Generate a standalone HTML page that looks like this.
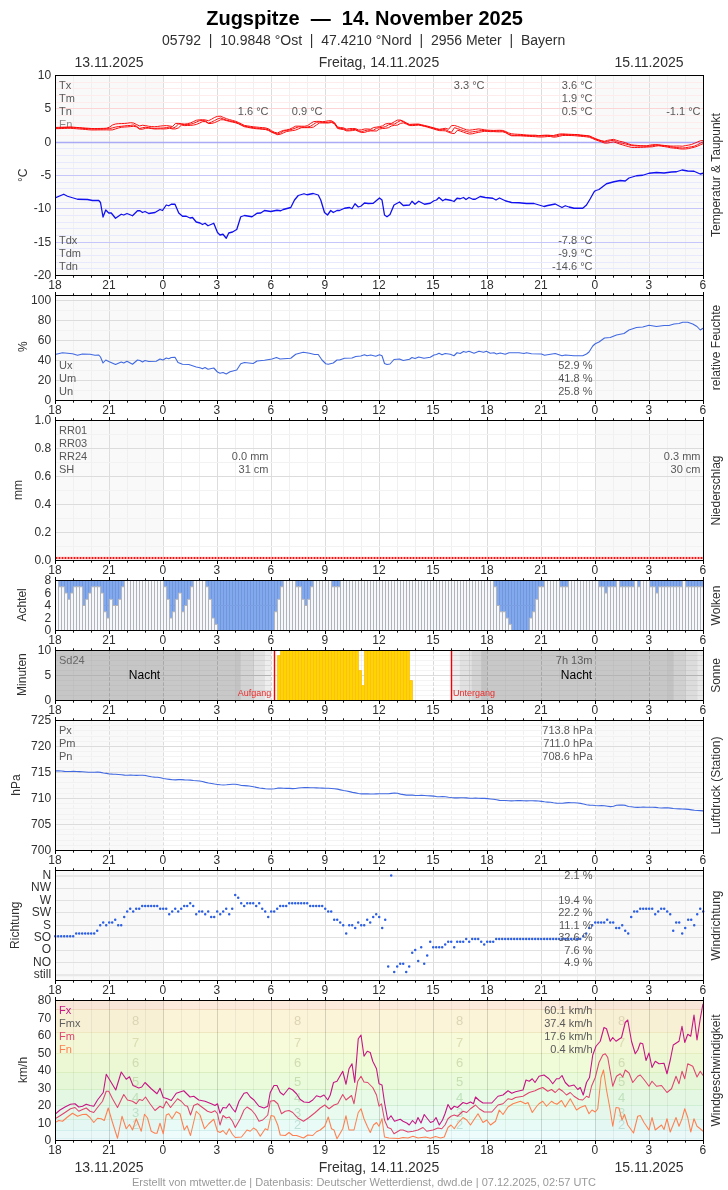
<!DOCTYPE html>
<html lang="de"><head><meta charset="utf-8"><title>Zugspitze — 14. November 2025</title>
<style>html,body{margin:0;padding:0;background:#fff}svg{display:block;will-change:transform}text{font-family:"Liberation Sans",sans-serif}</style></head>
<body>
<svg width="728" height="1190" viewBox="0 0 728 1190" font-family="'Liberation Sans', sans-serif">
<text x="364.6" y="25" font-size="20" fill="#000" text-anchor="middle" font-weight="bold" xml:space="preserve">Zugspitze  —  14. November 2025</text>
<text x="363.7" y="45" font-size="14" fill="#303030" text-anchor="middle" xml:space="preserve">05792  |  10.9848 °Ost  |  47.4210 °Nord  |  2956 Meter  |  Bayern</text>
<text x="109" y="67" font-size="14" fill="#303030" text-anchor="middle">13.11.2025</text>
<text x="379" y="67" font-size="14" fill="#303030" text-anchor="middle">Freitag, 14.11.2025</text>
<text x="649" y="67" font-size="14" fill="#303030" text-anchor="middle">15.11.2025</text>
<text x="109" y="1172" font-size="14" fill="#303030" text-anchor="middle">13.11.2025</text>
<text x="379" y="1172" font-size="14" fill="#303030" text-anchor="middle">Freitag, 14.11.2025</text>
<text x="649" y="1172" font-size="14" fill="#303030" text-anchor="middle">15.11.2025</text>
<text x="364" y="1186" font-size="11" fill="#999" text-anchor="middle">Erstellt von mtwetter.de | Datenbasis: Deutscher Wetterdienst, dwd.de | 07.12.2025, 02:57 UTC</text>
<rect x="55.5" y="75.5" width="108" height="200" fill="#f9f9f9"/>
<rect x="595.5" y="75.5" width="108" height="200" fill="#f9f9f9"/>
<path d="M73.5 75.5V275.5M91.5 75.5V275.5M127.5 75.5V275.5M145.5 75.5V275.5M181.5 75.5V275.5M199.5 75.5V275.5M235.5 75.5V275.5M253.5 75.5V275.5M289.5 75.5V275.5M307.5 75.5V275.5M343.5 75.5V275.5M361.5 75.5V275.5M397.5 75.5V275.5M415.5 75.5V275.5M451.5 75.5V275.5M469.5 75.5V275.5M505.5 75.5V275.5M523.5 75.5V275.5M559.5 75.5V275.5M577.5 75.5V275.5M613.5 75.5V275.5M631.5 75.5V275.5M667.5 75.5V275.5M685.5 75.5V275.5" stroke="#f0f0f0" stroke-width="1" fill="none"/>
<path d="M109.5 75.5V275.5M163.5 75.5V275.5M217.5 75.5V275.5M271.5 75.5V275.5M325.5 75.5V275.5M379.5 75.5V275.5M433.5 75.5V275.5M487.5 75.5V275.5M541.5 75.5V275.5M595.5 75.5V275.5M649.5 75.5V275.5" stroke="#dddddd" stroke-width="1.0" fill="none"/>
<path d="M55.5 135.5H703.5M55.5 128.5H703.5M55.5 122.5H703.5M55.5 115.5H703.5M55.5 102.5H703.5M55.5 95.5H703.5M55.5 88.5H703.5M55.5 82.5H703.5" stroke="#feecec" stroke-width="1" fill="none"/>
<path d="M55.5 108.5H703.5" stroke="#fcd6d6" stroke-width="1" fill="none"/>
<path d="M55.5 148.5H703.5M55.5 155.5H703.5M55.5 162.5H703.5M55.5 168.5H703.5M55.5 182.5H703.5M55.5 188.5H703.5M55.5 195.5H703.5M55.5 202.5H703.5M55.5 215.5H703.5M55.5 222.5H703.5M55.5 228.5H703.5M55.5 235.5H703.5M55.5 248.5H703.5M55.5 255.5H703.5M55.5 262.5H703.5M55.5 268.5H703.5" stroke="#e9e9fd" stroke-width="1" fill="none"/>
<path d="M55.5 175.5H703.5M55.5 208.5H703.5M55.5 242.5H703.5" stroke="#c6c6fa" stroke-width="1.2" fill="none"/>
<path d="M55.5 142.5H703.5" stroke="#aaaaf6" stroke-width="1.6" fill="none"/>
<text x="59" y="88.8" font-size="11" fill="#585858" text-anchor="start">Tx</text>
<text x="59" y="101.8" font-size="11" fill="#585858" text-anchor="start">Tm</text>
<text x="59" y="114.8" font-size="11" fill="#585858" text-anchor="start">Tn</text>
<text x="59" y="127.8" font-size="11" fill="#8c8c8c" text-anchor="start">En</text>
<text x="59" y="243.8" font-size="11" fill="#585858" text-anchor="start">Tdx</text>
<text x="59" y="256.8" font-size="11" fill="#585858" text-anchor="start">Tdm</text>
<text x="59" y="269.8" font-size="11" fill="#585858" text-anchor="start">Tdn</text>
<text x="592.5" y="88.8" font-size="11" fill="#585858" text-anchor="end">3.6 °C</text>
<text x="592.5" y="101.8" font-size="11" fill="#585858" text-anchor="end">1.9 °C</text>
<text x="592.5" y="114.8" font-size="11" fill="#585858" text-anchor="end">0.5 °C</text>
<text x="592.5" y="243.8" font-size="11" fill="#585858" text-anchor="end">-7.8 °C</text>
<text x="592.5" y="256.8" font-size="11" fill="#585858" text-anchor="end">-9.9 °C</text>
<text x="592.5" y="269.8" font-size="11" fill="#585858" text-anchor="end">-14.6 °C</text>
<text x="484.5" y="88.8" font-size="11" fill="#585858" text-anchor="end">3.3 °C</text>
<text x="268.5" y="114.8" font-size="11" fill="#585858" text-anchor="end">1.6 °C</text>
<text x="322.5" y="114.8" font-size="11" fill="#585858" text-anchor="end">0.9 °C</text>
<text x="700.5" y="114.8" font-size="11" fill="#585858" text-anchor="end">-1.1 °C</text>
<g clip-path="url(#c1)">
<path d="M55.5 127.45 L58.5 127.37 L61.5 127.26 L64.5 127.14 L67.5 127.04 L70.5 126.92 L73.5 127.15 L76.5 127.43 L79.5 127.64 L82.5 127.87 L85.5 128.07 L88.5 128.28 L91.5 128.51 L94.5 128.55 L97.5 128.51 L100.5 128.44 L103.5 128.38 L106.5 128.2 L109.5 127.14 L112.5 125 L115.5 124 L118.5 123.67 L121.5 123.57 L124.5 123.44 L127.5 123.16 L130.5 122.73 L133.5 123.03 L136.5 124.47 L139.5 125.95 L142.5 125.26 L145.5 125.58 L148.5 126.26 L151.5 126.54 L154.5 126.74 L157.5 126.47 L160.5 126.04 L163.5 125.74 L166.5 125.62 L169.5 125.95 L172.5 126.59 L175.5 123.44 L178.5 123.41 L181.5 123.79 L184.5 124.1 L187.5 123.69 L190.5 122.94 L193.5 121.55 L196.5 120.2 L199.5 119.84 L202.5 119.7 L205.5 119.93 L208.5 120.74 L211.5 119.21 L214.5 117.47 L217.5 116.32 L220.5 116.24 L223.5 117.44 L226.5 118.72 L229.5 119.6 L232.5 120.42 L235.5 121.24 L238.5 122.48 L241.5 123.95 L244.5 125.45 L247.5 125.89 L250.5 126.36 L253.5 126.8 L256.5 127.06 L259.5 127.39 L262.5 127.62 L265.5 127.88 L268.5 128.83 L271.5 130.74 L274.5 132.25 L277.5 133.01 L280.5 131.46 L283.5 130.4 L286.5 129.91 L289.5 129.21 L292.5 127.76 L295.5 126.2 L298.5 126.12 L301.5 126.21 L304.5 126.26 L307.5 125.65 L310.5 123.54 L313.5 121.63 L316.5 121.36 L319.5 121.35 L322.5 121.73 L325.5 121.35 L328.5 120.73 L331.5 120.77 L334.5 122.58 L337.5 127 L340.5 127.52 L343.5 127.87 L346.5 129.22 L349.5 128.56 L352.5 128.56 L355.5 128.58 L358.5 130 L361.5 129.88 L364.5 129.02 L367.5 128.96 L370.5 129.33 L373.5 127.54 L376.5 127.1 L379.5 126.65 L382.5 125.86 L385.5 123.95 L388.5 123.39 L391.5 123.42 L394.5 121.66 L397.5 120.08 L400.5 120.06 L403.5 121.31 L406.5 122.99 L409.5 124.42 L412.5 124.18 L415.5 124.08 L418.5 124.03 L421.5 124.69 L424.5 125.44 L427.5 126.11 L430.5 126.97 L433.5 127.73 L436.5 128.62 L439.5 129.32 L442.5 128.72 L445.5 128.3 L448.5 129.29 L451.5 125.66 L454.5 125.46 L457.5 126.43 L460.5 127.52 L463.5 128.69 L466.5 129.86 L469.5 130.16 L472.5 129.82 L475.5 129.41 L478.5 128.91 L481.5 129.31 L484.5 129.79 L487.5 130.17 L490.5 130.31 L493.5 130.45 L496.5 130.35 L499.5 130.25 L502.5 130.42 L505.5 131.42 L508.5 132.88 L511.5 133.78 L514.5 134.09 L517.5 134.27 L520.5 134.42 L523.5 134.7 L526.5 134.95 L529.5 135.13 L532.5 135.18 L535.5 135.2 L538.5 135.64 L541.5 135.42 L544.5 135.19 L547.5 135.13 L550.5 135.36 L553.5 135.5 L556.5 134.7 L559.5 134.04 L562.5 133.86 L565.5 134.05 L568.5 134.22 L571.5 134.35 L574.5 134.48 L577.5 134.56 L580.5 134.93 L583.5 135.27 L586.5 135.55 L589.5 135.98 L592.5 137.31 L595.5 138.62 L598.5 139.76 L601.5 140.74 L604.5 141.32 L607.5 140.36 L610.5 139.81 L613.5 139.39 L616.5 140.28 L619.5 141.21 L622.5 141.81 L625.5 142.71 L628.5 143.85 L631.5 144.84 L634.5 145.2 L637.5 145.43 L640.5 145.67 L643.5 145.71 L646.5 145.8 L649.5 145.28 L652.5 144.7 L655.5 144.66 L658.5 144.77 L661.5 145.13 L664.5 145.47 L667.5 145.77 L670.5 145.99 L673.5 146.11 L676.5 146.02 L679.5 146.04 L682.5 146.21 L685.5 145.58 L688.5 145.12 L691.5 144.47 L694.5 143.27 L697.5 141.98 L700.5 140.79 L703.5 140.55" stroke="#f00" stroke-width="0.95" fill="none" stroke-linejoin="round"/>
<path d="M55.5 128.13 L58.5 128.02 L61.5 127.84 L64.5 127.67 L67.5 127.64 L70.5 127.66 L73.5 127.72 L76.5 127.8 L79.5 128.05 L82.5 128.32 L85.5 128.56 L88.5 128.76 L91.5 128.96 L94.5 129.06 L97.5 129.09 L100.5 129.07 L103.5 128.91 L106.5 128.78 L109.5 128.61 L112.5 127.87 L115.5 127.08 L118.5 126.54 L121.5 126.31 L124.5 125.89 L127.5 125.58 L130.5 125.45 L133.5 124.91 L136.5 126.24 L139.5 128.54 L142.5 127.73 L145.5 127.23 L148.5 127.68 L151.5 128.05 L154.5 128.35 L157.5 128.16 L160.5 128.08 L163.5 128.01 L166.5 127.59 L169.5 127.02 L172.5 128.21 L175.5 127.07 L178.5 123.93 L181.5 124.22 L184.5 124.76 L187.5 124.56 L190.5 124.19 L193.5 123.39 L196.5 122.06 L199.5 120.71 L202.5 120.52 L205.5 121.01 L208.5 123.1 L211.5 122.06 L214.5 120.6 L217.5 119.02 L220.5 117.97 L223.5 119.05 L226.5 120.13 L229.5 120.82 L232.5 121.37 L235.5 122.07 L238.5 123.32 L241.5 124.86 L244.5 126.24 L247.5 126.73 L250.5 127.25 L253.5 127.65 L256.5 128.05 L259.5 128.56 L262.5 128.85 L265.5 128.93 L268.5 129.85 L271.5 131.68 L274.5 132.97 L277.5 134.05 L280.5 132.89 L283.5 131.05 L286.5 130.47 L289.5 129.98 L292.5 129.16 L295.5 127.98 L298.5 126.88 L301.5 127.04 L304.5 127.19 L307.5 127.06 L310.5 126.24 L313.5 124.33 L316.5 122.32 L319.5 122 L322.5 122.27 L325.5 122.47 L328.5 122.19 L331.5 121.74 L334.5 123.24 L337.5 127.75 L340.5 128.43 L343.5 128.73 L346.5 130.13 L349.5 129.9 L352.5 129.45 L355.5 129.53 L358.5 130.79 L361.5 131.61 L364.5 130.8 L367.5 130.07 L370.5 130.17 L373.5 130.21 L376.5 128.27 L379.5 127.65 L382.5 127.4 L385.5 126.63 L388.5 124.82 L391.5 124.16 L394.5 124.05 L397.5 122.28 L400.5 120.59 L403.5 121.89 L406.5 123.36 L409.5 124.9 L412.5 124.82 L415.5 124.61 L418.5 124.51 L421.5 125.32 L424.5 126.05 L427.5 126.72 L430.5 127.42 L433.5 128.28 L436.5 129.17 L439.5 129.86 L442.5 129.68 L445.5 129.58 L448.5 131.25 L451.5 132.24 L454.5 127.64 L457.5 128.66 L460.5 129.69 L463.5 130.56 L466.5 131.47 L469.5 132.26 L472.5 131.83 L475.5 131.4 L478.5 130.97 L481.5 130.43 L484.5 130.52 L487.5 130.77 L490.5 131.06 L493.5 131.13 L496.5 131.09 L499.5 130.99 L502.5 131.01 L505.5 132.04 L508.5 133.97 L511.5 135.15 L514.5 135.3 L517.5 135.28 L520.5 135.26 L523.5 135.49 L526.5 135.57 L529.5 135.57 L532.5 135.75 L535.5 135.83 L538.5 135.97 L541.5 135.86 L544.5 135.72 L547.5 135.6 L550.5 135.72 L553.5 136.23 L556.5 135.75 L559.5 135.05 L562.5 134.54 L565.5 134.65 L568.5 134.84 L571.5 134.9 L574.5 134.85 L577.5 135.08 L580.5 135.47 L583.5 135.67 L586.5 135.9 L589.5 136.4 L592.5 137.81 L595.5 139.12 L598.5 140.05 L601.5 140.96 L604.5 141.97 L607.5 141.55 L610.5 140.69 L613.5 140.38 L616.5 141.65 L619.5 142.7 L622.5 143.33 L625.5 143.98 L628.5 144.76 L631.5 145.59 L634.5 145.81 L637.5 146.05 L640.5 146.09 L643.5 146.13 L646.5 146.28 L649.5 146.23 L652.5 145.65 L655.5 145.11 L658.5 145.16 L661.5 145.61 L664.5 145.91 L667.5 146.19 L670.5 146.72 L673.5 147.18 L676.5 147.47 L679.5 147.79 L682.5 148.02 L685.5 147.73 L688.5 147.21 L691.5 146.75 L694.5 146.1 L697.5 144.73 L700.5 143.15 L703.5 141.74" stroke="#f00" stroke-width="0.95" fill="none" stroke-linejoin="round"/>
<path d="M55.5 128.66 L58.5 128.61 L61.5 128.54 L64.5 128.42 L67.5 128.32 L70.5 128.27 L73.5 128.52 L76.5 128.74 L79.5 129 L82.5 129.23 L85.5 129.48 L88.5 129.75 L91.5 129.95 L94.5 129.97 L97.5 129.93 L100.5 129.88 L103.5 129.89 L106.5 129.85 L109.5 129.94 L112.5 129.88 L115.5 128.93 L118.5 127.99 L121.5 127.22 L124.5 127.05 L127.5 126.85 L130.5 126.6 L133.5 126.28 L136.5 126.91 L139.5 129.14 L142.5 129.23 L145.5 128.32 L148.5 128.11 L151.5 128.57 L154.5 128.97 L157.5 128.94 L160.5 128.85 L163.5 128.94 L166.5 128.79 L169.5 128.24 L172.5 128.95 L175.5 128.91 L178.5 127.83 L181.5 125.04 L184.5 125.6 L187.5 125.49 L190.5 125.4 L193.5 125.07 L196.5 124.39 L199.5 123.13 L202.5 121.58 L205.5 121.61 L208.5 123.5 L211.5 123.47 L214.5 122.61 L217.5 121.41 L220.5 119.8 L223.5 119.77 L226.5 120.61 L229.5 121.41 L232.5 122.08 L235.5 122.81 L238.5 123.81 L241.5 125.35 L244.5 126.75 L247.5 127.29 L250.5 127.89 L253.5 128.44 L256.5 128.75 L259.5 128.95 L262.5 129.26 L265.5 129.56 L268.5 130.54 L271.5 132.2 L274.5 133.45 L277.5 134.67 L280.5 134.22 L283.5 132.82 L286.5 131.54 L289.5 131.04 L292.5 130.6 L295.5 130.08 L298.5 128.87 L301.5 127.62 L304.5 127.61 L307.5 127.62 L310.5 127.58 L313.5 127.05 L316.5 124.93 L319.5 122.93 L322.5 122.97 L325.5 122.98 L328.5 123 L331.5 122.49 L334.5 123.72 L337.5 128.38 L340.5 129.15 L343.5 129.53 L346.5 130.88 L349.5 130.84 L352.5 130.56 L355.5 130.04 L358.5 131.49 L361.5 132.46 L364.5 132.38 L367.5 131.42 L370.5 130.9 L373.5 130.97 L376.5 130.97 L379.5 129.01 L382.5 128.51 L385.5 128.32 L388.5 127.65 L391.5 125.93 L394.5 125.35 L397.5 125.09 L400.5 123.36 L403.5 122.88 L406.5 124.11 L409.5 125.55 L412.5 125.6 L415.5 125.37 L418.5 125.11 L421.5 125.64 L424.5 126.37 L427.5 127.13 L430.5 128.04 L433.5 128.95 L436.5 129.92 L439.5 130.64 L442.5 130.69 L445.5 130.85 L448.5 132.28 L451.5 133.27 L454.5 133.56 L457.5 130.13 L460.5 131.15 L463.5 132.23 L466.5 133.25 L469.5 134.06 L472.5 133.74 L475.5 132.98 L478.5 132.39 L481.5 131.8 L484.5 131.31 L487.5 131.42 L490.5 131.67 L493.5 131.59 L496.5 131.79 L499.5 131.87 L502.5 131.75 L505.5 132.63 L508.5 134.41 L511.5 135.76 L514.5 135.84 L517.5 135.79 L520.5 135.85 L523.5 136.04 L526.5 136.19 L529.5 136.39 L532.5 136.55 L535.5 136.67 L538.5 136.99 L541.5 136.98 L544.5 136.83 L547.5 136.54 L550.5 136.53 L553.5 137.18 L556.5 136.92 L559.5 136.21 L562.5 135.54 L565.5 135.41 L568.5 135.5 L571.5 135.55 L574.5 135.7 L577.5 135.97 L580.5 136.25 L583.5 136.49 L586.5 136.83 L589.5 137.31 L592.5 138.55 L595.5 139.79 L598.5 140.88 L601.5 141.96 L604.5 143.06 L607.5 143.07 L610.5 142.46 L613.5 141.86 L616.5 142.83 L619.5 143.97 L622.5 144.82 L625.5 145.75 L628.5 146.6 L631.5 147.41 L634.5 147.47 L637.5 147.45 L640.5 147.39 L643.5 147.3 L646.5 147.13 L649.5 146.91 L652.5 146.79 L655.5 146.15 L658.5 145.75 L661.5 146.17 L664.5 146.62 L667.5 147.12 L670.5 147.75 L673.5 148.08 L676.5 148.38 L679.5 148.82 L682.5 149.05 L685.5 148.94 L688.5 148.6 L691.5 147.88 L694.5 147.19 L697.5 146.2 L700.5 144.77 L703.5 143.5" stroke="#f00" stroke-width="0.95" fill="none" stroke-linejoin="round"/>
<path d="M55 198 L63.75 194.25 L67.5 196.25 L77.5 199.25 L87.5 199.5 L92.5 200.5 L98.75 200.5 L100.5 202.5 L103 217 L105.75 210 L108.75 213 L111.25 213 L115.5 218.25 L121.25 214.25 L123.75 215 L127 213.5 L132.5 215.75 L137.5 210.75 L140 210.75 L142.5 212.5 L145 211.5 L148.75 213.5 L155 212.5 L160 209.5 L162.5 210.5 L166.25 205 L168.75 205.75 L171.25 204.25 L175 204.25 L178.75 213 L182.5 216.25 L186.25 216.25 L190 218 L192.5 217.5 L196.25 222 L200 223 L202.5 224.5 L205 223.25 L208 225.75 L213.75 223.25 L217.5 232.5 L220 235 L223 234.25 L226.25 238.25 L228.75 233 L232.5 232 L236.75 229.5 L240.75 216.75 L244.5 215.5 L252 216.75 L257 213.25 L260.75 213 L264.5 210.5 L270.75 211.5 L277 210.25 L280.75 210.75 L283.25 209.5 L290.75 207.5 L294.5 200 L298.25 195.5 L304 193.75 L307 194.75 L313.25 193.5 L318.25 195 L320.75 200 L324.5 212.5 L327.5 215 L330.75 210.5 L333.25 212.5 L337 210.5 L339.5 210.5 L344.5 208.25 L349.5 207.5 L352 208.75 L355 203.75 L358.25 207 L360.75 206.25 L364.5 203 L368.25 203.5 L373.25 203.25 L379.5 198 L382 200 L384.5 215 L387 216.75 L390 214.5 L394 205 L399.5 202 L403.25 205.5 L409.5 205 L412 201.25 L415 204.25 L418.75 201.25 L424.5 204.25 L430.25 203.25 L434 200.75 L436.5 200 L439 197.5 L442.75 200.75 L445.25 199.25 L451.5 200.5 L454 201.5 L457 198.25 L460.25 198.75 L463.5 197.5 L466 199.5 L469 197.5 L472.75 199.25 L475.25 199.25 L480.25 196.5 L485.25 197.5 L492.75 198.25 L496 200 L499.5 198 L505.25 200.75 L511.5 202.5 L519 202.75 L526.5 203.5 L534 203.5 L544 206.5 L547.75 205.5 L555.25 204 L562 207.5 L565.25 205.75 L569 207 L574 208.25 L582.75 208.25 L586.5 205 L590.25 198.75 L594 192 L595.25 190.75 L599 189.5 L606.5 183.75 L614 181.75 L620.25 180.5 L625.25 181 L629 178 L636.5 175.75 L642.75 175.25 L649 173.25 L656.5 172.5 L664 173 L671.5 172 L676.5 171.75 L682 170 L687.75 171 L694 171.25 L700.25 174 L703 173.25" stroke="#1010f0" stroke-width="1.3" fill="none" stroke-linejoin="round"/>
</g>
<path d="M55.5 275.5v3.5M109.5 275.5v3.5M163.5 275.5v3.5M217.5 275.5v3.5M271.5 275.5v3.5M325.5 275.5v3.5M379.5 275.5v3.5M433.5 275.5v3.5M487.5 275.5v3.5M541.5 275.5v3.5M595.5 275.5v3.5M649.5 275.5v3.5M703.5 275.5v3.5" stroke="#000" stroke-width="1" fill="none"/>
<path d="M73.5 275.5v2.2M91.5 275.5v2.2M127.5 275.5v2.2M145.5 275.5v2.2M181.5 275.5v2.2M199.5 275.5v2.2M235.5 275.5v2.2M253.5 275.5v2.2M289.5 275.5v2.2M307.5 275.5v2.2M343.5 275.5v2.2M361.5 275.5v2.2M397.5 275.5v2.2M415.5 275.5v2.2M451.5 275.5v2.2M469.5 275.5v2.2M505.5 275.5v2.2M523.5 275.5v2.2M559.5 275.5v2.2M577.5 275.5v2.2M613.5 275.5v2.2M631.5 275.5v2.2M667.5 275.5v2.2M685.5 275.5v2.2" stroke="#000" stroke-width="0.9" fill="none"/>
<rect x="55.5" y="75.5" width="648" height="200" fill="none" stroke="#000" stroke-width="1"/>
<text x="54.9" y="288.7" font-size="12" fill="#303030" text-anchor="middle">18</text>
<text x="108.9" y="288.7" font-size="12" fill="#303030" text-anchor="middle">21</text>
<text x="162.9" y="288.7" font-size="12" fill="#303030" text-anchor="middle">0</text>
<text x="216.9" y="288.7" font-size="12" fill="#303030" text-anchor="middle">3</text>
<text x="270.9" y="288.7" font-size="12" fill="#303030" text-anchor="middle">6</text>
<text x="324.9" y="288.7" font-size="12" fill="#303030" text-anchor="middle">9</text>
<text x="378.9" y="288.7" font-size="12" fill="#303030" text-anchor="middle">12</text>
<text x="432.9" y="288.7" font-size="12" fill="#303030" text-anchor="middle">15</text>
<text x="486.9" y="288.7" font-size="12" fill="#303030" text-anchor="middle">18</text>
<text x="540.9" y="288.7" font-size="12" fill="#303030" text-anchor="middle">21</text>
<text x="594.9" y="288.7" font-size="12" fill="#303030" text-anchor="middle">0</text>
<text x="648.9" y="288.7" font-size="12" fill="#303030" text-anchor="middle">3</text>
<text x="702.9" y="288.7" font-size="12" fill="#303030" text-anchor="middle">6</text>
<text x="51.1" y="79" font-size="12" fill="#303030" text-anchor="end">10</text>
<text x="51.1" y="112.33" font-size="12" fill="#303030" text-anchor="end">5</text>
<text x="51.1" y="145.67" font-size="12" fill="#303030" text-anchor="end">0</text>
<text x="51.1" y="179" font-size="12" fill="#303030" text-anchor="end">-5</text>
<text x="51.1" y="212.33" font-size="12" fill="#303030" text-anchor="end">-10</text>
<text x="51.1" y="245.67" font-size="12" fill="#303030" text-anchor="end">-15</text>
<text x="51.1" y="279" font-size="12" fill="#303030" text-anchor="end">-20</text>
<text transform="translate(26.5 175.3) rotate(-90)" font-size="12" fill="#303030" text-anchor="middle">°C</text>
<text transform="translate(719.5 175) rotate(-90)" font-size="12" fill="#303030" text-anchor="middle">Temperatur &amp; Taupunkt</text>
<rect x="55.5" y="295.5" width="108" height="105" fill="#f9f9f9"/>
<rect x="595.5" y="295.5" width="108" height="105" fill="#f9f9f9"/>
<path d="M73.5 295.5V400.5M91.5 295.5V400.5M127.5 295.5V400.5M145.5 295.5V400.5M181.5 295.5V400.5M199.5 295.5V400.5M235.5 295.5V400.5M253.5 295.5V400.5M289.5 295.5V400.5M307.5 295.5V400.5M343.5 295.5V400.5M361.5 295.5V400.5M397.5 295.5V400.5M415.5 295.5V400.5M451.5 295.5V400.5M469.5 295.5V400.5M505.5 295.5V400.5M523.5 295.5V400.5M559.5 295.5V400.5M577.5 295.5V400.5M613.5 295.5V400.5M631.5 295.5V400.5M667.5 295.5V400.5M685.5 295.5V400.5" stroke="#f0f0f0" stroke-width="1" fill="none"/>
<path d="M109.5 295.5V400.5M163.5 295.5V400.5M217.5 295.5V400.5M271.5 295.5V400.5M325.5 295.5V400.5M379.5 295.5V400.5M433.5 295.5V400.5M487.5 295.5V400.5M541.5 295.5V400.5M595.5 295.5V400.5M649.5 295.5V400.5" stroke="#dddddd" stroke-width="1.0" fill="none"/>
<path d="M55.5 390.5H703.5M55.5 370.5H703.5M55.5 350.5H703.5M55.5 330.5H703.5M55.5 310.5H703.5" stroke="#f2f2f2" stroke-width="1" fill="none"/>
<path d="M55.5 380.5H703.5M55.5 360.5H703.5M55.5 340.5H703.5M55.5 320.5H703.5M55.5 300.5H703.5" stroke="#dcdcdc" stroke-width="1.1" fill="none"/>
<path d="M55 354.5 L62.5 352.75 L72.5 353.75 L77.5 355.25 L82.5 354 L90 354.25 L95 355.25 L98.75 355 L100.5 357 L103 363 L105.75 360 L108.75 361.5 L115.5 364.5 L121.25 362 L123.75 363 L127 361.25 L132.5 364.25 L137.5 360 L140 360.5 L142.5 362 L145 360.5 L148.75 361.5 L156.25 361.25 L160 359 L163 360 L166.25 358 L168.75 358.75 L171.25 357.5 L175 357.25 L178 362.5 L182.5 364.25 L188.75 364.5 L192.5 365.75 L196.25 367 L200 367.75 L202.5 368.75 L205 367.5 L208 369.25 L213.75 368 L217.5 372 L220 373.25 L223 372.5 L226.25 374 L230 371.75 L236.75 370 L240.75 363.75 L244.5 362.5 L253.25 363.5 L257 361 L264.5 360.25 L272 359 L276.5 357.5 L280 359 L290.75 358.25 L295.75 354.25 L303.25 352.25 L309.5 353.25 L314.5 354.5 L318.25 354.5 L322 360 L325.75 363.75 L328.25 364.25 L333.25 363 L337 360 L339.5 360 L344.5 358.25 L352 358 L355.75 356.5 L360.75 356 L364.5 354.75 L367 355.75 L370.75 355 L375.75 356.25 L379.5 354.75 L382 355.75 L384.5 363.5 L387 364.5 L390 364 L394 359.5 L399.5 359 L403.25 360.5 L409.5 359.25 L412 357.5 L415 358.5 L418.75 357 L424 358.25 L430.25 357.25 L434 355 L436.5 354.5 L439 353.25 L442 354.75 L445.25 353.5 L450.25 354.25 L454 355.75 L457 352.75 L460.25 353.5 L463.5 351.5 L466 352.25 L469 351.25 L474 353.25 L479 351.25 L483.5 352.25 L486.5 351.25 L490.25 353.25 L494 352.75 L496.5 354 L500.25 353 L505.25 354.25 L509 352.75 L519 352.75 L524 353.5 L526.5 352.75 L531.5 353.75 L541.5 354 L544.5 355.25 L549 354.5 L555.25 353.5 L562 355.75 L565.25 355 L574 355.75 L582.75 355.75 L586.5 354 L589 352 L592.75 346 L595.25 343.75 L599 342 L604.5 338 L610.25 337.5 L616.5 335 L624 333.5 L629 330 L636.5 327.5 L642.75 327 L649 325.25 L656.5 326.5 L664 325.5 L669 325.5 L674 324 L679 323.5 L682.75 322.25 L687.75 322.25 L692.75 324 L697 326.5 L700.25 330 L703 328.25" stroke="#4169e1" stroke-width="1.1" fill="none" stroke-linejoin="round"/>
<text x="59" y="368.6" font-size="11" fill="#585858" text-anchor="start">Ux</text>
<text x="59" y="381.55" font-size="11" fill="#585858" text-anchor="start">Um</text>
<text x="59" y="394.5" font-size="11" fill="#585858" text-anchor="start">Un</text>
<text x="592.5" y="368.6" font-size="11" fill="#585858" text-anchor="end">52.9 %</text>
<text x="592.5" y="381.55" font-size="11" fill="#585858" text-anchor="end">41.8 %</text>
<text x="592.5" y="394.5" font-size="11" fill="#585858" text-anchor="end">25.8 %</text>
<path d="M55.5 400.5v3.5M55.5 295.5v-3.5M109.5 400.5v3.5M109.5 295.5v-3.5M163.5 400.5v3.5M163.5 295.5v-3.5M217.5 400.5v3.5M217.5 295.5v-3.5M271.5 400.5v3.5M271.5 295.5v-3.5M325.5 400.5v3.5M325.5 295.5v-3.5M379.5 400.5v3.5M379.5 295.5v-3.5M433.5 400.5v3.5M433.5 295.5v-3.5M487.5 400.5v3.5M487.5 295.5v-3.5M541.5 400.5v3.5M541.5 295.5v-3.5M595.5 400.5v3.5M595.5 295.5v-3.5M649.5 400.5v3.5M649.5 295.5v-3.5M703.5 400.5v3.5M703.5 295.5v-3.5" stroke="#000" stroke-width="1" fill="none"/>
<path d="M73.5 400.5v2.2M73.5 295.5v-2.2M91.5 400.5v2.2M91.5 295.5v-2.2M127.5 400.5v2.2M127.5 295.5v-2.2M145.5 400.5v2.2M145.5 295.5v-2.2M181.5 400.5v2.2M181.5 295.5v-2.2M199.5 400.5v2.2M199.5 295.5v-2.2M235.5 400.5v2.2M235.5 295.5v-2.2M253.5 400.5v2.2M253.5 295.5v-2.2M289.5 400.5v2.2M289.5 295.5v-2.2M307.5 400.5v2.2M307.5 295.5v-2.2M343.5 400.5v2.2M343.5 295.5v-2.2M361.5 400.5v2.2M361.5 295.5v-2.2M397.5 400.5v2.2M397.5 295.5v-2.2M415.5 400.5v2.2M415.5 295.5v-2.2M451.5 400.5v2.2M451.5 295.5v-2.2M469.5 400.5v2.2M469.5 295.5v-2.2M505.5 400.5v2.2M505.5 295.5v-2.2M523.5 400.5v2.2M523.5 295.5v-2.2M559.5 400.5v2.2M559.5 295.5v-2.2M577.5 400.5v2.2M577.5 295.5v-2.2M613.5 400.5v2.2M613.5 295.5v-2.2M631.5 400.5v2.2M631.5 295.5v-2.2M667.5 400.5v2.2M667.5 295.5v-2.2M685.5 400.5v2.2M685.5 295.5v-2.2" stroke="#000" stroke-width="0.9" fill="none"/>
<rect x="55.5" y="295.5" width="648" height="105" fill="none" stroke="#000" stroke-width="1"/>
<text x="54.9" y="413.7" font-size="12" fill="#303030" text-anchor="middle">18</text>
<text x="108.9" y="413.7" font-size="12" fill="#303030" text-anchor="middle">21</text>
<text x="162.9" y="413.7" font-size="12" fill="#303030" text-anchor="middle">0</text>
<text x="216.9" y="413.7" font-size="12" fill="#303030" text-anchor="middle">3</text>
<text x="270.9" y="413.7" font-size="12" fill="#303030" text-anchor="middle">6</text>
<text x="324.9" y="413.7" font-size="12" fill="#303030" text-anchor="middle">9</text>
<text x="378.9" y="413.7" font-size="12" fill="#303030" text-anchor="middle">12</text>
<text x="432.9" y="413.7" font-size="12" fill="#303030" text-anchor="middle">15</text>
<text x="486.9" y="413.7" font-size="12" fill="#303030" text-anchor="middle">18</text>
<text x="540.9" y="413.7" font-size="12" fill="#303030" text-anchor="middle">21</text>
<text x="594.9" y="413.7" font-size="12" fill="#303030" text-anchor="middle">0</text>
<text x="648.9" y="413.7" font-size="12" fill="#303030" text-anchor="middle">3</text>
<text x="702.9" y="413.7" font-size="12" fill="#303030" text-anchor="middle">6</text>
<text x="51.1" y="404" font-size="12" fill="#303030" text-anchor="end">0</text>
<text x="51.1" y="384" font-size="12" fill="#303030" text-anchor="end">20</text>
<text x="51.1" y="364" font-size="12" fill="#303030" text-anchor="end">40</text>
<text x="51.1" y="344" font-size="12" fill="#303030" text-anchor="end">60</text>
<text x="51.1" y="324" font-size="12" fill="#303030" text-anchor="end">80</text>
<text x="51.1" y="304" font-size="12" fill="#303030" text-anchor="end">100</text>
<text transform="translate(26.7 346.7) rotate(-90)" font-size="12" fill="#303030" text-anchor="middle">%</text>
<text transform="translate(719.5 347.5) rotate(-90)" font-size="12" fill="#303030" text-anchor="middle">relative Feuchte</text>
<rect x="55.5" y="420.5" width="108" height="140" fill="#f9f9f9"/>
<rect x="595.5" y="420.5" width="108" height="140" fill="#f9f9f9"/>
<path d="M73.5 420.5V560.5M91.5 420.5V560.5M127.5 420.5V560.5M145.5 420.5V560.5M181.5 420.5V560.5M199.5 420.5V560.5M235.5 420.5V560.5M253.5 420.5V560.5M289.5 420.5V560.5M307.5 420.5V560.5M343.5 420.5V560.5M361.5 420.5V560.5M397.5 420.5V560.5M415.5 420.5V560.5M451.5 420.5V560.5M469.5 420.5V560.5M505.5 420.5V560.5M523.5 420.5V560.5M559.5 420.5V560.5M577.5 420.5V560.5M613.5 420.5V560.5M631.5 420.5V560.5M667.5 420.5V560.5M685.5 420.5V560.5" stroke="#f0f0f0" stroke-width="1" fill="none"/>
<path d="M109.5 420.5V560.5M163.5 420.5V560.5M217.5 420.5V560.5M271.5 420.5V560.5M325.5 420.5V560.5M379.5 420.5V560.5M433.5 420.5V560.5M487.5 420.5V560.5M541.5 420.5V560.5M595.5 420.5V560.5M649.5 420.5V560.5" stroke="#dddddd" stroke-width="1.0" fill="none"/>
<path d="M55.5 546.5H703.5M55.5 518.5H703.5M55.5 490.5H703.5M55.5 462.5H703.5M55.5 434.5H703.5" stroke="#f2f2f2" stroke-width="1" fill="none"/>
<path d="M55.5 532.5H703.5M55.5 504.5H703.5M55.5 476.5H703.5M55.5 448.5H703.5" stroke="#dcdcdc" stroke-width="1.1" fill="none"/>
<text x="59" y="433.8" font-size="11" fill="#585858" text-anchor="start">RR01</text>
<text x="59" y="446.8" font-size="11" fill="#585858" text-anchor="start">RR03</text>
<text x="59" y="459.8" font-size="11" fill="#585858" text-anchor="start">RR24</text>
<text x="59" y="472.8" font-size="11" fill="#585858" text-anchor="start">SH</text>
<text x="268.5" y="459.8" font-size="11" fill="#585858" text-anchor="end">0.0 mm</text>
<text x="268.5" y="472.8" font-size="11" fill="#585858" text-anchor="end">31 cm</text>
<text x="700.5" y="459.8" font-size="11" fill="#585858" text-anchor="end">0.3 mm</text>
<text x="700.5" y="472.8" font-size="11" fill="#585858" text-anchor="end">30 cm</text>
<path d="M55.5 558H703.5" stroke="#ffc0c0" stroke-width="2.3" fill="none"/>
<path d="M56.5 558H703.5" stroke="#f00" stroke-width="1.9" stroke-dasharray="0.01 2.99" stroke-linecap="round" fill="none"/>
<path d="M55.5 560.5v3.5M55.5 420.5v-3.5M109.5 560.5v3.5M109.5 420.5v-3.5M163.5 560.5v3.5M163.5 420.5v-3.5M217.5 560.5v3.5M217.5 420.5v-3.5M271.5 560.5v3.5M271.5 420.5v-3.5M325.5 560.5v3.5M325.5 420.5v-3.5M379.5 560.5v3.5M379.5 420.5v-3.5M433.5 560.5v3.5M433.5 420.5v-3.5M487.5 560.5v3.5M487.5 420.5v-3.5M541.5 560.5v3.5M541.5 420.5v-3.5M595.5 560.5v3.5M595.5 420.5v-3.5M649.5 560.5v3.5M649.5 420.5v-3.5M703.5 560.5v3.5M703.5 420.5v-3.5" stroke="#000" stroke-width="1" fill="none"/>
<path d="M73.5 560.5v2.2M73.5 420.5v-2.2M91.5 560.5v2.2M91.5 420.5v-2.2M127.5 560.5v2.2M127.5 420.5v-2.2M145.5 560.5v2.2M145.5 420.5v-2.2M181.5 560.5v2.2M181.5 420.5v-2.2M199.5 560.5v2.2M199.5 420.5v-2.2M235.5 560.5v2.2M235.5 420.5v-2.2M253.5 560.5v2.2M253.5 420.5v-2.2M289.5 560.5v2.2M289.5 420.5v-2.2M307.5 560.5v2.2M307.5 420.5v-2.2M343.5 560.5v2.2M343.5 420.5v-2.2M361.5 560.5v2.2M361.5 420.5v-2.2M397.5 560.5v2.2M397.5 420.5v-2.2M415.5 560.5v2.2M415.5 420.5v-2.2M451.5 560.5v2.2M451.5 420.5v-2.2M469.5 560.5v2.2M469.5 420.5v-2.2M505.5 560.5v2.2M505.5 420.5v-2.2M523.5 560.5v2.2M523.5 420.5v-2.2M559.5 560.5v2.2M559.5 420.5v-2.2M577.5 560.5v2.2M577.5 420.5v-2.2M613.5 560.5v2.2M613.5 420.5v-2.2M631.5 560.5v2.2M631.5 420.5v-2.2M667.5 560.5v2.2M667.5 420.5v-2.2M685.5 560.5v2.2M685.5 420.5v-2.2" stroke="#000" stroke-width="0.9" fill="none"/>
<rect x="55.5" y="420.5" width="648" height="140" fill="none" stroke="#000" stroke-width="1"/>
<text x="54.9" y="573.7" font-size="12" fill="#303030" text-anchor="middle">18</text>
<text x="108.9" y="573.7" font-size="12" fill="#303030" text-anchor="middle">21</text>
<text x="162.9" y="573.7" font-size="12" fill="#303030" text-anchor="middle">0</text>
<text x="216.9" y="573.7" font-size="12" fill="#303030" text-anchor="middle">3</text>
<text x="270.9" y="573.7" font-size="12" fill="#303030" text-anchor="middle">6</text>
<text x="324.9" y="573.7" font-size="12" fill="#303030" text-anchor="middle">9</text>
<text x="378.9" y="573.7" font-size="12" fill="#303030" text-anchor="middle">12</text>
<text x="432.9" y="573.7" font-size="12" fill="#303030" text-anchor="middle">15</text>
<text x="486.9" y="573.7" font-size="12" fill="#303030" text-anchor="middle">18</text>
<text x="540.9" y="573.7" font-size="12" fill="#303030" text-anchor="middle">21</text>
<text x="594.9" y="573.7" font-size="12" fill="#303030" text-anchor="middle">0</text>
<text x="648.9" y="573.7" font-size="12" fill="#303030" text-anchor="middle">3</text>
<text x="702.9" y="573.7" font-size="12" fill="#303030" text-anchor="middle">6</text>
<text x="51.1" y="564" font-size="12" fill="#303030" text-anchor="end">0.0</text>
<text x="51.1" y="536" font-size="12" fill="#303030" text-anchor="end">0.2</text>
<text x="51.1" y="508" font-size="12" fill="#303030" text-anchor="end">0.4</text>
<text x="51.1" y="480" font-size="12" fill="#303030" text-anchor="end">0.6</text>
<text x="51.1" y="452" font-size="12" fill="#303030" text-anchor="end">0.8</text>
<text x="51.1" y="424" font-size="12" fill="#303030" text-anchor="end">1.0</text>
<text transform="translate(22 490.1) rotate(-90)" font-size="12" fill="#303030" text-anchor="middle">mm</text>
<text transform="translate(719.5 490.5) rotate(-90)" font-size="12" fill="#303030" text-anchor="middle">Niederschlag</text>
<rect x="55.5" y="580.5" width="648" height="50" fill="#82a8ee"/>
<path d="M58.5 580.5V630.5M61.5 580.5V630.5M64.5 580.5V630.5M67.5 580.5V630.5M70.5 580.5V630.5M73.5 580.5V630.5M76.5 580.5V630.5M79.5 580.5V630.5M82.5 580.5V630.5M85.5 580.5V630.5M88.5 580.5V630.5M91.5 580.5V630.5M94.5 580.5V630.5M97.5 580.5V630.5M100.5 580.5V630.5M103.5 580.5V630.5M106.5 580.5V630.5M109.5 580.5V630.5M112.5 580.5V630.5M115.5 580.5V630.5M118.5 580.5V630.5M121.5 580.5V630.5M124.5 580.5V630.5M127.5 580.5V630.5M130.5 580.5V630.5M133.5 580.5V630.5M136.5 580.5V630.5M139.5 580.5V630.5M142.5 580.5V630.5M145.5 580.5V630.5M148.5 580.5V630.5M151.5 580.5V630.5M154.5 580.5V630.5M157.5 580.5V630.5M160.5 580.5V630.5M163.5 580.5V630.5M166.5 580.5V630.5M169.5 580.5V630.5M172.5 580.5V630.5M175.5 580.5V630.5M178.5 580.5V630.5M181.5 580.5V630.5M184.5 580.5V630.5M187.5 580.5V630.5M190.5 580.5V630.5M193.5 580.5V630.5M196.5 580.5V630.5M199.5 580.5V630.5M202.5 580.5V630.5M205.5 580.5V630.5M208.5 580.5V630.5M211.5 580.5V630.5M214.5 580.5V630.5M217.5 580.5V630.5M220.5 580.5V630.5M223.5 580.5V630.5M226.5 580.5V630.5M229.5 580.5V630.5M232.5 580.5V630.5M235.5 580.5V630.5M238.5 580.5V630.5M241.5 580.5V630.5M244.5 580.5V630.5M247.5 580.5V630.5M250.5 580.5V630.5M253.5 580.5V630.5M256.5 580.5V630.5M259.5 580.5V630.5M262.5 580.5V630.5M265.5 580.5V630.5M268.5 580.5V630.5M271.5 580.5V630.5M274.5 580.5V630.5M277.5 580.5V630.5M280.5 580.5V630.5M283.5 580.5V630.5M286.5 580.5V630.5M289.5 580.5V630.5M292.5 580.5V630.5M295.5 580.5V630.5M298.5 580.5V630.5M301.5 580.5V630.5M304.5 580.5V630.5M307.5 580.5V630.5M310.5 580.5V630.5M313.5 580.5V630.5M316.5 580.5V630.5M319.5 580.5V630.5M322.5 580.5V630.5M325.5 580.5V630.5M328.5 580.5V630.5M331.5 580.5V630.5M334.5 580.5V630.5M337.5 580.5V630.5M340.5 580.5V630.5M343.5 580.5V630.5M346.5 580.5V630.5M349.5 580.5V630.5M352.5 580.5V630.5M355.5 580.5V630.5M358.5 580.5V630.5M361.5 580.5V630.5M364.5 580.5V630.5M367.5 580.5V630.5M370.5 580.5V630.5M373.5 580.5V630.5M376.5 580.5V630.5M379.5 580.5V630.5M382.5 580.5V630.5M385.5 580.5V630.5M388.5 580.5V630.5M391.5 580.5V630.5M394.5 580.5V630.5M397.5 580.5V630.5M400.5 580.5V630.5M403.5 580.5V630.5M406.5 580.5V630.5M409.5 580.5V630.5M412.5 580.5V630.5M415.5 580.5V630.5M418.5 580.5V630.5M421.5 580.5V630.5M424.5 580.5V630.5M427.5 580.5V630.5M430.5 580.5V630.5M433.5 580.5V630.5M436.5 580.5V630.5M439.5 580.5V630.5M442.5 580.5V630.5M445.5 580.5V630.5M448.5 580.5V630.5M451.5 580.5V630.5M454.5 580.5V630.5M457.5 580.5V630.5M460.5 580.5V630.5M463.5 580.5V630.5M466.5 580.5V630.5M469.5 580.5V630.5M472.5 580.5V630.5M475.5 580.5V630.5M478.5 580.5V630.5M481.5 580.5V630.5M484.5 580.5V630.5M487.5 580.5V630.5M490.5 580.5V630.5M493.5 580.5V630.5M496.5 580.5V630.5M499.5 580.5V630.5M502.5 580.5V630.5M505.5 580.5V630.5M508.5 580.5V630.5M511.5 580.5V630.5M514.5 580.5V630.5M517.5 580.5V630.5M520.5 580.5V630.5M523.5 580.5V630.5M526.5 580.5V630.5M529.5 580.5V630.5M532.5 580.5V630.5M535.5 580.5V630.5M538.5 580.5V630.5M541.5 580.5V630.5M544.5 580.5V630.5M547.5 580.5V630.5M550.5 580.5V630.5M553.5 580.5V630.5M556.5 580.5V630.5M559.5 580.5V630.5M562.5 580.5V630.5M565.5 580.5V630.5M568.5 580.5V630.5M571.5 580.5V630.5M574.5 580.5V630.5M577.5 580.5V630.5M580.5 580.5V630.5M583.5 580.5V630.5M586.5 580.5V630.5M589.5 580.5V630.5M592.5 580.5V630.5M595.5 580.5V630.5M598.5 580.5V630.5M601.5 580.5V630.5M604.5 580.5V630.5M607.5 580.5V630.5M610.5 580.5V630.5M613.5 580.5V630.5M616.5 580.5V630.5M619.5 580.5V630.5M622.5 580.5V630.5M625.5 580.5V630.5M628.5 580.5V630.5M631.5 580.5V630.5M634.5 580.5V630.5M637.5 580.5V630.5M640.5 580.5V630.5M643.5 580.5V630.5M646.5 580.5V630.5M649.5 580.5V630.5M652.5 580.5V630.5M655.5 580.5V630.5M658.5 580.5V630.5M661.5 580.5V630.5M664.5 580.5V630.5M667.5 580.5V630.5M670.5 580.5V630.5M673.5 580.5V630.5M676.5 580.5V630.5M679.5 580.5V630.5M682.5 580.5V630.5M685.5 580.5V630.5M688.5 580.5V630.5M691.5 580.5V630.5M694.5 580.5V630.5M697.5 580.5V630.5M700.5 580.5V630.5" stroke="#6f94d6" stroke-width="0.9" fill="none"/>
<path d="M55.5 605.5H703.5" stroke="#7a9fe2" stroke-width="1" fill="none"/>
<path d="M55.5 630.5H58.5V580.5H55.5ZM58.5 630.5H61.5V586.75H58.5ZM61.5 630.5H64.5V586.75H61.5ZM64.5 630.5H67.5V593H64.5ZM67.5 630.5H70.5V599.25H67.5ZM70.5 630.5H73.5V593H70.5ZM73.5 630.5H76.5V586.75H73.5ZM76.5 630.5H79.5V586.75H76.5ZM79.5 630.5H82.5V586.75H79.5ZM82.5 630.5H85.5V605.5H82.5ZM85.5 630.5H88.5V599.25H85.5ZM88.5 630.5H91.5V593H88.5ZM91.5 630.5H94.5V586.75H91.5ZM94.5 630.5H97.5V586.75H94.5ZM97.5 630.5H100.5V586.75H97.5ZM100.5 630.5H103.5V593H100.5ZM103.5 630.5H106.5V611.75H103.5ZM106.5 630.5H109.5V618H106.5ZM109.5 630.5H112.5V599.25H109.5ZM112.5 630.5H115.5V605.5H112.5ZM115.5 630.5H118.5V605.5H115.5ZM118.5 630.5H121.5V599.25H118.5ZM121.5 630.5H124.5V586.75H121.5ZM124.5 630.5H127.5V580.5H124.5ZM127.5 630.5H130.5V580.5H127.5ZM130.5 630.5H133.5V580.5H130.5ZM133.5 630.5H136.5V580.5H133.5ZM136.5 630.5H139.5V580.5H136.5ZM139.5 630.5H142.5V580.5H139.5ZM142.5 630.5H145.5V580.5H142.5ZM145.5 630.5H148.5V580.5H145.5ZM148.5 630.5H151.5V580.5H148.5ZM151.5 630.5H154.5V580.5H151.5ZM154.5 630.5H157.5V580.5H154.5ZM157.5 630.5H160.5V580.5H157.5ZM160.5 630.5H163.5V580.5H160.5ZM163.5 630.5H166.5V586.75H163.5ZM166.5 630.5H169.5V599.25H166.5ZM169.5 630.5H172.5V618H169.5ZM172.5 630.5H175.5V611.75H172.5ZM175.5 630.5H178.5V599.25H175.5ZM178.5 630.5H181.5V593H178.5ZM181.5 630.5H184.5V611.75H181.5ZM184.5 630.5H187.5V605.5H184.5ZM187.5 630.5H190.5V599.25H187.5ZM190.5 630.5H193.5V586.75H190.5ZM193.5 630.5H196.5V580.5H193.5ZM196.5 630.5H199.5V580.5H196.5ZM199.5 630.5H202.5V580.5H199.5ZM202.5 630.5H205.5V580.5H202.5ZM205.5 630.5H208.5V586.75H205.5ZM208.5 630.5H211.5V599.25H208.5ZM211.5 630.5H214.5V618H211.5ZM214.5 630.5H217.5V624.25H214.5ZM274.5 630.5H277.5V611.75H274.5ZM277.5 630.5H280.5V599.25H277.5ZM280.5 630.5H283.5V586.75H280.5ZM283.5 630.5H286.5V580.5H283.5ZM286.5 630.5H289.5V580.5H286.5ZM289.5 630.5H292.5V580.5H289.5ZM292.5 630.5H295.5V580.5H292.5ZM295.5 630.5H298.5V586.75H295.5ZM298.5 630.5H301.5V586.75H298.5ZM301.5 630.5H304.5V599.25H301.5ZM304.5 630.5H307.5V605.5H304.5ZM307.5 630.5H310.5V599.25H307.5ZM310.5 630.5H313.5V586.75H310.5ZM313.5 630.5H316.5V580.5H313.5ZM316.5 630.5H319.5V580.5H316.5ZM319.5 630.5H322.5V580.5H319.5ZM322.5 630.5H325.5V580.5H322.5ZM325.5 630.5H328.5V580.5H325.5ZM328.5 630.5H331.5V580.5H328.5ZM331.5 630.5H334.5V586.75H331.5ZM334.5 630.5H337.5V586.75H334.5ZM337.5 630.5H340.5V586.75H337.5ZM340.5 630.5H343.5V580.5H340.5ZM343.5 630.5H346.5V580.5H343.5ZM346.5 630.5H349.5V580.5H346.5ZM349.5 630.5H352.5V580.5H349.5ZM352.5 630.5H355.5V580.5H352.5ZM355.5 630.5H358.5V580.5H355.5ZM358.5 630.5H361.5V580.5H358.5ZM361.5 630.5H364.5V580.5H361.5ZM364.5 630.5H367.5V580.5H364.5ZM367.5 630.5H370.5V580.5H367.5ZM370.5 630.5H373.5V580.5H370.5ZM373.5 630.5H376.5V580.5H373.5ZM376.5 630.5H379.5V580.5H376.5ZM379.5 630.5H382.5V580.5H379.5ZM382.5 630.5H385.5V580.5H382.5ZM385.5 630.5H388.5V580.5H385.5ZM388.5 630.5H391.5V580.5H388.5ZM391.5 630.5H394.5V580.5H391.5ZM394.5 630.5H397.5V580.5H394.5ZM397.5 630.5H400.5V580.5H397.5ZM400.5 630.5H403.5V580.5H400.5ZM403.5 630.5H406.5V580.5H403.5ZM406.5 630.5H409.5V580.5H406.5ZM409.5 630.5H412.5V580.5H409.5ZM412.5 630.5H415.5V580.5H412.5ZM415.5 630.5H418.5V580.5H415.5ZM418.5 630.5H421.5V580.5H418.5ZM421.5 630.5H424.5V580.5H421.5ZM424.5 630.5H427.5V580.5H424.5ZM427.5 630.5H430.5V580.5H427.5ZM430.5 630.5H433.5V580.5H430.5ZM433.5 630.5H436.5V580.5H433.5ZM436.5 630.5H439.5V580.5H436.5ZM439.5 630.5H442.5V580.5H439.5ZM442.5 630.5H445.5V580.5H442.5ZM445.5 630.5H448.5V580.5H445.5ZM448.5 630.5H451.5V580.5H448.5ZM451.5 630.5H454.5V580.5H451.5ZM454.5 630.5H457.5V580.5H454.5ZM457.5 630.5H460.5V580.5H457.5ZM460.5 630.5H463.5V580.5H460.5ZM463.5 630.5H466.5V580.5H463.5ZM466.5 630.5H469.5V580.5H466.5ZM469.5 630.5H472.5V580.5H469.5ZM472.5 630.5H475.5V580.5H472.5ZM475.5 630.5H478.5V580.5H475.5ZM478.5 630.5H481.5V580.5H478.5ZM481.5 630.5H484.5V580.5H481.5ZM484.5 630.5H487.5V580.5H484.5ZM487.5 630.5H490.5V580.5H487.5ZM490.5 630.5H493.5V580.5H490.5ZM493.5 630.5H496.5V586.75H493.5ZM496.5 630.5H499.5V605.5H496.5ZM499.5 630.5H502.5V611.75H499.5ZM502.5 630.5H505.5V611.75H502.5ZM505.5 630.5H508.5V618H505.5ZM508.5 630.5H511.5V624.25H508.5ZM529.5 630.5H532.5V618H529.5ZM532.5 630.5H535.5V611.75H532.5ZM535.5 630.5H538.5V599.25H535.5ZM538.5 630.5H541.5V586.75H538.5ZM541.5 630.5H544.5V586.75H541.5ZM544.5 630.5H547.5V580.5H544.5ZM547.5 630.5H550.5V580.5H547.5ZM550.5 630.5H553.5V580.5H550.5ZM553.5 630.5H556.5V580.5H553.5ZM556.5 630.5H559.5V580.5H556.5ZM559.5 630.5H562.5V586.75H559.5ZM562.5 630.5H565.5V586.75H562.5ZM565.5 630.5H568.5V586.75H565.5ZM568.5 630.5H571.5V580.5H568.5ZM571.5 630.5H574.5V580.5H571.5ZM574.5 630.5H577.5V580.5H574.5ZM577.5 630.5H580.5V580.5H577.5ZM580.5 630.5H583.5V580.5H580.5ZM583.5 630.5H586.5V580.5H583.5ZM586.5 630.5H589.5V580.5H586.5ZM589.5 630.5H592.5V580.5H589.5ZM592.5 630.5H595.5V580.5H592.5ZM595.5 630.5H598.5V580.5H595.5ZM598.5 630.5H601.5V586.75H598.5ZM601.5 630.5H604.5V586.75H601.5ZM604.5 630.5H607.5V593H604.5ZM607.5 630.5H610.5V586.75H607.5ZM610.5 630.5H613.5V586.75H610.5ZM613.5 630.5H616.5V586.75H613.5ZM616.5 630.5H619.5V580.5H616.5ZM619.5 630.5H622.5V586.75H619.5ZM622.5 630.5H625.5V586.75H622.5ZM625.5 630.5H628.5V586.75H625.5ZM628.5 630.5H631.5V586.75H628.5ZM631.5 630.5H634.5V586.75H631.5ZM634.5 630.5H637.5V580.5H634.5ZM637.5 630.5H640.5V586.75H637.5ZM640.5 630.5H643.5V580.5H640.5ZM643.5 630.5H646.5V580.5H643.5ZM646.5 630.5H649.5V580.5H646.5ZM649.5 630.5H652.5V586.75H649.5ZM652.5 630.5H655.5V586.75H652.5ZM655.5 630.5H658.5V593H655.5ZM658.5 630.5H661.5V586.75H658.5ZM661.5 630.5H664.5V586.75H661.5ZM664.5 630.5H667.5V586.75H664.5ZM667.5 630.5H670.5V586.75H667.5ZM670.5 630.5H673.5V586.75H670.5ZM673.5 630.5H676.5V586.75H673.5ZM676.5 630.5H679.5V586.75H676.5ZM679.5 630.5H682.5V586.75H679.5ZM682.5 630.5H685.5V580.5H682.5ZM685.5 630.5H688.5V586.75H685.5ZM688.5 630.5H691.5V586.75H688.5ZM691.5 630.5H694.5V586.75H691.5ZM694.5 630.5H697.5V586.75H694.5ZM697.5 630.5H700.5V586.75H697.5ZM700.5 630.5H703.5V586.75H700.5Z" fill="#f6f8fc" stroke="#b1b4ba" stroke-width="1"/>
<path d="M55.5 630.5v3.5M55.5 580.5v-3.5M109.5 630.5v3.5M109.5 580.5v-3.5M163.5 630.5v3.5M163.5 580.5v-3.5M217.5 630.5v3.5M217.5 580.5v-3.5M271.5 630.5v3.5M271.5 580.5v-3.5M325.5 630.5v3.5M325.5 580.5v-3.5M379.5 630.5v3.5M379.5 580.5v-3.5M433.5 630.5v3.5M433.5 580.5v-3.5M487.5 630.5v3.5M487.5 580.5v-3.5M541.5 630.5v3.5M541.5 580.5v-3.5M595.5 630.5v3.5M595.5 580.5v-3.5M649.5 630.5v3.5M649.5 580.5v-3.5M703.5 630.5v3.5M703.5 580.5v-3.5" stroke="#000" stroke-width="1" fill="none"/>
<path d="M73.5 630.5v2.2M73.5 580.5v-2.2M91.5 630.5v2.2M91.5 580.5v-2.2M127.5 630.5v2.2M127.5 580.5v-2.2M145.5 630.5v2.2M145.5 580.5v-2.2M181.5 630.5v2.2M181.5 580.5v-2.2M199.5 630.5v2.2M199.5 580.5v-2.2M235.5 630.5v2.2M235.5 580.5v-2.2M253.5 630.5v2.2M253.5 580.5v-2.2M289.5 630.5v2.2M289.5 580.5v-2.2M307.5 630.5v2.2M307.5 580.5v-2.2M343.5 630.5v2.2M343.5 580.5v-2.2M361.5 630.5v2.2M361.5 580.5v-2.2M397.5 630.5v2.2M397.5 580.5v-2.2M415.5 630.5v2.2M415.5 580.5v-2.2M451.5 630.5v2.2M451.5 580.5v-2.2M469.5 630.5v2.2M469.5 580.5v-2.2M505.5 630.5v2.2M505.5 580.5v-2.2M523.5 630.5v2.2M523.5 580.5v-2.2M559.5 630.5v2.2M559.5 580.5v-2.2M577.5 630.5v2.2M577.5 580.5v-2.2M613.5 630.5v2.2M613.5 580.5v-2.2M631.5 630.5v2.2M631.5 580.5v-2.2M667.5 630.5v2.2M667.5 580.5v-2.2M685.5 630.5v2.2M685.5 580.5v-2.2" stroke="#000" stroke-width="0.9" fill="none"/>
<rect x="55.5" y="580.5" width="648" height="50" fill="none" stroke="#000" stroke-width="1"/>
<text x="54.9" y="643.7" font-size="12" fill="#303030" text-anchor="middle">18</text>
<text x="108.9" y="643.7" font-size="12" fill="#303030" text-anchor="middle">21</text>
<text x="162.9" y="643.7" font-size="12" fill="#303030" text-anchor="middle">0</text>
<text x="216.9" y="643.7" font-size="12" fill="#303030" text-anchor="middle">3</text>
<text x="270.9" y="643.7" font-size="12" fill="#303030" text-anchor="middle">6</text>
<text x="324.9" y="643.7" font-size="12" fill="#303030" text-anchor="middle">9</text>
<text x="378.9" y="643.7" font-size="12" fill="#303030" text-anchor="middle">12</text>
<text x="432.9" y="643.7" font-size="12" fill="#303030" text-anchor="middle">15</text>
<text x="486.9" y="643.7" font-size="12" fill="#303030" text-anchor="middle">18</text>
<text x="540.9" y="643.7" font-size="12" fill="#303030" text-anchor="middle">21</text>
<text x="594.9" y="643.7" font-size="12" fill="#303030" text-anchor="middle">0</text>
<text x="648.9" y="643.7" font-size="12" fill="#303030" text-anchor="middle">3</text>
<text x="702.9" y="643.7" font-size="12" fill="#303030" text-anchor="middle">6</text>
<text x="51.1" y="634" font-size="12" fill="#303030" text-anchor="end">0</text>
<text x="51.1" y="621.5" font-size="12" fill="#303030" text-anchor="end">2</text>
<text x="51.1" y="609" font-size="12" fill="#303030" text-anchor="end">4</text>
<text x="51.1" y="596.5" font-size="12" fill="#303030" text-anchor="end">6</text>
<text x="51.1" y="584" font-size="12" fill="#303030" text-anchor="end">8</text>
<text transform="translate(26.4 604.9) rotate(-90)" font-size="12" fill="#303030" text-anchor="middle">Achtel</text>
<text transform="translate(719.5 605.5) rotate(-90)" font-size="12" fill="#303030" text-anchor="middle">Wolken</text>
<rect x="55.5" y="650.5" width="215.5" height="50" fill="#c8c8c8"/>
<rect x="55.5" y="650.5" width="108" height="50" fill="#c6c6c6"/>
<rect x="235.3" y="650.5" width="35.7" height="50" fill="#c3c3c3"/>
<rect x="240.7" y="650.5" width="30.3" height="50" fill="#d3d3d3"/>
<rect x="253.9" y="650.5" width="17.1" height="50" fill="#e1e1e1"/>
<rect x="265" y="650.5" width="5.8" height="50" fill="#eeeeee"/>
<rect x="452" y="650.5" width="251.5" height="50" fill="#c8c8c8"/>
<rect x="595.5" y="650.5" width="108" height="50" fill="#c7c7c7"/>
<rect x="452" y="650.5" width="35.4" height="50" fill="#c3c3c3"/>
<rect x="452" y="650.5" width="29.2" height="50" fill="#d3d3d3"/>
<rect x="452" y="650.5" width="19.7" height="50" fill="#e1e1e1"/>
<rect x="452" y="650.5" width="7.8" height="50" fill="#eeeeee"/>
<rect x="668" y="650.5" width="35.5" height="50" fill="#c2c2c2"/>
<rect x="673.6" y="650.5" width="29.9" height="50" fill="#d0d0d0"/>
<rect x="685.3" y="650.5" width="18.2" height="50" fill="#dcdcdc"/>
<rect x="697.5" y="650.5" width="6" height="50" fill="#e8e8e8"/>
<g opacity="0.4">
<path d="M55.5 695.5H703.5M55.5 690.5H703.5M55.5 685.5H703.5M55.5 680.5H703.5M55.5 670.5H703.5M55.5 665.5H703.5M55.5 660.5H703.5M55.5 655.5H703.5" stroke="#b4b4b4" stroke-width="0.8" fill="none"/>
</g>
<path d="M55.5 675.5H703.5" stroke="#b4b4b4" stroke-width="1" fill="none"/>
<path d="M73.5 650.5V700.5M91.5 650.5V700.5M127.5 650.5V700.5M145.5 650.5V700.5M181.5 650.5V700.5M199.5 650.5V700.5M235.5 650.5V700.5M253.5 650.5V700.5M289.5 650.5V700.5M307.5 650.5V700.5M343.5 650.5V700.5M361.5 650.5V700.5M397.5 650.5V700.5M415.5 650.5V700.5M451.5 650.5V700.5M469.5 650.5V700.5M505.5 650.5V700.5M523.5 650.5V700.5M559.5 650.5V700.5M577.5 650.5V700.5M613.5 650.5V700.5M631.5 650.5V700.5M667.5 650.5V700.5M685.5 650.5V700.5" stroke="#b9b9b9" stroke-width="0.8" fill="none" opacity="0.6"/>
<path d="M109.5 650.5V700.5M163.5 650.5V700.5M217.5 650.5V700.5M271.5 650.5V700.5M325.5 650.5V700.5M379.5 650.5V700.5M433.5 650.5V700.5M487.5 650.5V700.5M541.5 650.5V700.5M595.5 650.5V700.5M649.5 650.5V700.5" stroke="#a8a8a8" stroke-width="1" fill="none" stroke-dasharray="3.7 1.6"/>
<rect x="271" y="650.5" width="180.5" height="50" fill="#fff" opacity="0.55"/>
<path d="M277.5 700.5H280.5V655.5H277.5ZM280.5 700.5H283.5V650.5H280.5ZM283.5 700.5H286.5V650.5H283.5ZM286.5 700.5H289.5V650.5H286.5ZM289.5 700.5H292.5V650.5H289.5ZM292.5 700.5H295.5V650.5H292.5ZM295.5 700.5H298.5V650.5H295.5ZM298.5 700.5H301.5V650.5H298.5ZM301.5 700.5H304.5V650.5H301.5ZM304.5 700.5H307.5V650.5H304.5ZM307.5 700.5H310.5V650.5H307.5ZM310.5 700.5H313.5V650.5H310.5ZM313.5 700.5H316.5V650.5H313.5ZM316.5 700.5H319.5V650.5H316.5ZM319.5 700.5H322.5V650.5H319.5ZM322.5 700.5H325.5V650.5H322.5ZM325.5 700.5H328.5V650.5H325.5ZM328.5 700.5H331.5V650.5H328.5ZM331.5 700.5H334.5V650.5H331.5ZM334.5 700.5H337.5V650.5H334.5ZM337.5 700.5H340.5V650.5H337.5ZM340.5 700.5H343.5V650.5H340.5ZM343.5 700.5H346.5V650.5H343.5ZM346.5 700.5H349.5V650.5H346.5ZM349.5 700.5H352.5V650.5H349.5ZM352.5 700.5H355.5V650.5H352.5ZM355.5 700.5H358.5V650.5H355.5ZM358.5 700.5H361.5V670.5H358.5ZM361.5 700.5H364.5V685.5H361.5ZM364.5 700.5H367.5V650.5H364.5ZM367.5 700.5H370.5V650.5H367.5ZM370.5 700.5H373.5V650.5H370.5ZM373.5 700.5H376.5V650.5H373.5ZM376.5 700.5H379.5V650.5H376.5ZM379.5 700.5H382.5V650.5H379.5ZM382.5 700.5H385.5V650.5H382.5ZM385.5 700.5H388.5V650.5H385.5ZM388.5 700.5H391.5V650.5H388.5ZM391.5 700.5H394.5V650.5H391.5ZM394.5 700.5H397.5V650.5H394.5ZM397.5 700.5H400.5V650.5H397.5ZM400.5 700.5H403.5V650.5H400.5ZM403.5 700.5H406.5V650.5H403.5ZM406.5 700.5H409.5V650.5H406.5ZM409.5 700.5H412.5V680.5H409.5Z" fill="#ffd500" stroke="#ffbe1a" stroke-width="0.8"/>
<path d="M274.5 650.5V700.5M451.5 650.5V700.5" stroke="#f40000" stroke-width="1.4" fill="none"/>
<text x="59" y="663.8" font-size="11" fill="#686868" text-anchor="start">Sd24</text>
<text x="592.5" y="663.8" font-size="11" fill="#5a5a5a" text-anchor="end">7h 13m</text>
<text x="144.5" y="679" font-size="12" fill="#000" text-anchor="middle">Nacht</text>
<text x="576.5" y="679" font-size="12" fill="#000" text-anchor="middle">Nacht</text>
<text x="271.3" y="696" font-size="9" fill="#ea2a2a" text-anchor="end">Aufgang</text>
<text x="453" y="696" font-size="9" fill="#ea2a2a" text-anchor="start">Untergang</text>
<path d="M55.5 700.5v3.5M55.5 650.5v-3.5M109.5 700.5v3.5M109.5 650.5v-3.5M163.5 700.5v3.5M163.5 650.5v-3.5M217.5 700.5v3.5M217.5 650.5v-3.5M271.5 700.5v3.5M271.5 650.5v-3.5M325.5 700.5v3.5M325.5 650.5v-3.5M379.5 700.5v3.5M379.5 650.5v-3.5M433.5 700.5v3.5M433.5 650.5v-3.5M487.5 700.5v3.5M487.5 650.5v-3.5M541.5 700.5v3.5M541.5 650.5v-3.5M595.5 700.5v3.5M595.5 650.5v-3.5M649.5 700.5v3.5M649.5 650.5v-3.5M703.5 700.5v3.5M703.5 650.5v-3.5" stroke="#000" stroke-width="1" fill="none"/>
<path d="M73.5 700.5v2.2M73.5 650.5v-2.2M91.5 700.5v2.2M91.5 650.5v-2.2M127.5 700.5v2.2M127.5 650.5v-2.2M145.5 700.5v2.2M145.5 650.5v-2.2M181.5 700.5v2.2M181.5 650.5v-2.2M199.5 700.5v2.2M199.5 650.5v-2.2M235.5 700.5v2.2M235.5 650.5v-2.2M253.5 700.5v2.2M253.5 650.5v-2.2M289.5 700.5v2.2M289.5 650.5v-2.2M307.5 700.5v2.2M307.5 650.5v-2.2M343.5 700.5v2.2M343.5 650.5v-2.2M361.5 700.5v2.2M361.5 650.5v-2.2M397.5 700.5v2.2M397.5 650.5v-2.2M415.5 700.5v2.2M415.5 650.5v-2.2M451.5 700.5v2.2M451.5 650.5v-2.2M469.5 700.5v2.2M469.5 650.5v-2.2M505.5 700.5v2.2M505.5 650.5v-2.2M523.5 700.5v2.2M523.5 650.5v-2.2M559.5 700.5v2.2M559.5 650.5v-2.2M577.5 700.5v2.2M577.5 650.5v-2.2M613.5 700.5v2.2M613.5 650.5v-2.2M631.5 700.5v2.2M631.5 650.5v-2.2M667.5 700.5v2.2M667.5 650.5v-2.2M685.5 700.5v2.2M685.5 650.5v-2.2" stroke="#000" stroke-width="0.9" fill="none"/>
<rect x="55.5" y="650.5" width="648" height="50" fill="none" stroke="#000" stroke-width="1"/>
<text x="54.9" y="713.7" font-size="12" fill="#303030" text-anchor="middle">18</text>
<text x="108.9" y="713.7" font-size="12" fill="#303030" text-anchor="middle">21</text>
<text x="162.9" y="713.7" font-size="12" fill="#303030" text-anchor="middle">0</text>
<text x="216.9" y="713.7" font-size="12" fill="#303030" text-anchor="middle">3</text>
<text x="270.9" y="713.7" font-size="12" fill="#303030" text-anchor="middle">6</text>
<text x="324.9" y="713.7" font-size="12" fill="#303030" text-anchor="middle">9</text>
<text x="378.9" y="713.7" font-size="12" fill="#303030" text-anchor="middle">12</text>
<text x="432.9" y="713.7" font-size="12" fill="#303030" text-anchor="middle">15</text>
<text x="486.9" y="713.7" font-size="12" fill="#303030" text-anchor="middle">18</text>
<text x="540.9" y="713.7" font-size="12" fill="#303030" text-anchor="middle">21</text>
<text x="594.9" y="713.7" font-size="12" fill="#303030" text-anchor="middle">0</text>
<text x="648.9" y="713.7" font-size="12" fill="#303030" text-anchor="middle">3</text>
<text x="702.9" y="713.7" font-size="12" fill="#303030" text-anchor="middle">6</text>
<text x="51.1" y="704" font-size="12" fill="#303030" text-anchor="end">0</text>
<text x="51.1" y="679" font-size="12" fill="#303030" text-anchor="end">5</text>
<text x="51.1" y="654" font-size="12" fill="#303030" text-anchor="end">10</text>
<text transform="translate(26.4 674.6) rotate(-90)" font-size="12" fill="#303030" text-anchor="middle">Minuten</text>
<text transform="translate(719.5 675.5) rotate(-90)" font-size="12" fill="#303030" text-anchor="middle">Sonne</text>
<rect x="55.5" y="720.5" width="108" height="130" fill="#f9f9f9"/>
<rect x="595.5" y="720.5" width="108" height="130" fill="#f9f9f9"/>
<path d="M73.5 720.5V850.5M91.5 720.5V850.5M127.5 720.5V850.5M145.5 720.5V850.5M181.5 720.5V850.5M199.5 720.5V850.5M235.5 720.5V850.5M253.5 720.5V850.5M289.5 720.5V850.5M307.5 720.5V850.5M343.5 720.5V850.5M361.5 720.5V850.5M397.5 720.5V850.5M415.5 720.5V850.5M451.5 720.5V850.5M469.5 720.5V850.5M505.5 720.5V850.5M523.5 720.5V850.5M559.5 720.5V850.5M577.5 720.5V850.5M613.5 720.5V850.5M631.5 720.5V850.5M667.5 720.5V850.5M685.5 720.5V850.5" stroke="#f0f0f0" stroke-width="1" fill="none" stroke-dasharray="3.7 1.6"/>
<path d="M109.5 720.5V850.5M163.5 720.5V850.5M217.5 720.5V850.5M271.5 720.5V850.5M325.5 720.5V850.5M379.5 720.5V850.5M433.5 720.5V850.5M487.5 720.5V850.5M541.5 720.5V850.5M595.5 720.5V850.5M649.5 720.5V850.5" stroke="#dddddd" stroke-width="1.0" fill="none" stroke-dasharray="3.7 1.6"/>
<path d="M55.5 845.5H703.5M55.5 840.5H703.5M55.5 834.5H703.5M55.5 829.5H703.5M55.5 819.5H703.5M55.5 814.5H703.5M55.5 808.5H703.5M55.5 803.5H703.5M55.5 793.5H703.5M55.5 788.5H703.5M55.5 782.5H703.5M55.5 777.5H703.5M55.5 767.5H703.5M55.5 762.5H703.5M55.5 756.5H703.5M55.5 751.5H703.5M55.5 741.5H703.5M55.5 736.5H703.5M55.5 730.5H703.5M55.5 725.5H703.5" stroke="#f0f0f0" stroke-width="0.8" fill="none"/>
<path d="M55.5 824.5H703.5M55.5 798.5H703.5M55.5 772.5H703.5M55.5 746.5H703.5" stroke="#dcdcdc" stroke-width="1.1" fill="none"/>
<path d="M55.5 770.84 L58.5 770.8 L61.5 770.99 L64.5 771.35 L67.5 771.46 L70.5 771.45 L73.5 771.42 L76.5 771.44 L79.5 771.61 L82.5 771.81 L85.5 772 L88.5 772.18 L91.5 772.29 L94.5 772.19 L97.5 772.07 L100.5 772.35 L103.5 772.96 L106.5 773.4 L109.5 773.95 L112.5 774.15 L115.5 774.24 L118.5 774.47 L121.5 774.69 L124.5 775.13 L127.5 775.27 L130.5 775.14 L133.5 775.32 L136.5 775.37 L139.5 775.27 L142.5 775.32 L145.5 775.53 L148.5 776.2 L151.5 776.82 L154.5 777.12 L157.5 777.25 L160.5 777.73 L163.5 778.46 L166.5 778.92 L169.5 779.38 L172.5 779.78 L175.5 779.88 L178.5 779.6 L181.5 779.58 L184.5 779.83 L187.5 779.98 L190.5 780.14 L193.5 780.54 L196.5 780.78 L199.5 781.03 L202.5 781.57 L205.5 782.36 L208.5 783.01 L211.5 783.51 L214.5 784.04 L217.5 784.44 L220.5 784.81 L223.5 784.99 L226.5 784.79 L229.5 784.45 L232.5 784.24 L235.5 784.31 L238.5 784.82 L241.5 785.45 L244.5 785.63 L247.5 785.83 L250.5 786.24 L253.5 786.73 L256.5 787.39 L259.5 787.98 L262.5 788.41 L265.5 788.79 L268.5 789 L271.5 788.98 L274.5 788.72 L277.5 788.17 L280.5 787.98 L283.5 788.3 L286.5 788.4 L289.5 788.37 L292.5 788.58 L295.5 788.48 L298.5 788.03 L301.5 787.73 L304.5 787.66 L307.5 787.54 L310.5 787.68 L313.5 787.78 L316.5 787.88 L319.5 787.96 L322.5 788.12 L325.5 788.26 L328.5 788.28 L331.5 788.45 L334.5 788.73 L337.5 789.16 L340.5 789.84 L343.5 790.58 L346.5 791.03 L349.5 791.65 L352.5 792.37 L355.5 792.88 L358.5 793.44 L361.5 793.85 L364.5 793.9 L367.5 793.89 L370.5 794.03 L373.5 794.01 L376.5 793.85 L379.5 793.7 L382.5 793.68 L385.5 793.81 L388.5 793.75 L391.5 793.36 L394.5 792.93 L397.5 793.24 L400.5 794.11 L403.5 794.6 L406.5 795.09 L409.5 795.11 L412.5 795.14 L415.5 795.44 L418.5 795.54 L421.5 795.39 L424.5 795.57 L427.5 795.78 L430.5 795.87 L433.5 796.16 L436.5 796.58 L439.5 796.7 L442.5 796.55 L445.5 796.72 L448.5 797.22 L451.5 797.56 L454.5 797.83 L457.5 797.85 L460.5 797.72 L463.5 797.75 L466.5 797.91 L469.5 798.18 L472.5 798.23 L475.5 798.13 L478.5 798.27 L481.5 798.4 L484.5 798.34 L487.5 798.59 L490.5 798.93 L493.5 799.21 L496.5 799.75 L499.5 800.38 L502.5 800.53 L505.5 800.46 L508.5 800.68 L511.5 800.87 L514.5 800.69 L517.5 800.56 L520.5 800.66 L523.5 800.77 L526.5 800.86 L529.5 800.81 L532.5 800.69 L535.5 800.83 L538.5 801.03 L541.5 801.36 L544.5 801.82 L547.5 802.08 L550.5 802.29 L553.5 802.81 L556.5 803.12 L559.5 803.3 L562.5 803.25 L565.5 802.9 L568.5 802.62 L571.5 802.74 L574.5 802.75 L577.5 803 L580.5 803.39 L583.5 804.04 L586.5 804.69 L589.5 805.16 L592.5 805.3 L595.5 805.53 L598.5 805.69 L601.5 805.64 L604.5 805.77 L607.5 806.21 L610.5 806.65 L613.5 806.23 L616.5 805.26 L619.5 805.12 L622.5 804.99 L625.5 805.41 L628.5 806.51 L631.5 806.82 L634.5 807.2 L637.5 807.41 L640.5 807.3 L643.5 807.15 L646.5 807.21 L649.5 807.29 L652.5 807.24 L655.5 807.35 L658.5 807.71 L661.5 807.94 L664.5 807.85 L667.5 807.78 L670.5 808.1 L673.5 808.5 L676.5 808.73 L679.5 808.89 L682.5 809.03 L685.5 809.17 L688.5 809.39 L691.5 809.86 L694.5 810.3 L697.5 810.46 L700.5 810.62 L703.5 810.88" stroke="#4169e1" stroke-width="1.1" fill="none" stroke-linejoin="round"/>
<text x="59" y="733.8" font-size="11" fill="#585858" text-anchor="start">Px</text>
<text x="59" y="746.8" font-size="11" fill="#585858" text-anchor="start">Pm</text>
<text x="59" y="759.8" font-size="11" fill="#585858" text-anchor="start">Pn</text>
<text x="592.5" y="733.8" font-size="11" fill="#585858" text-anchor="end">713.8 hPa</text>
<text x="592.5" y="746.8" font-size="11" fill="#585858" text-anchor="end">711.0 hPa</text>
<text x="592.5" y="759.8" font-size="11" fill="#585858" text-anchor="end">708.6 hPa</text>
<path d="M55.5 850.5v3.5M55.5 720.5v-3.5M109.5 850.5v3.5M109.5 720.5v-3.5M163.5 850.5v3.5M163.5 720.5v-3.5M217.5 850.5v3.5M217.5 720.5v-3.5M271.5 850.5v3.5M271.5 720.5v-3.5M325.5 850.5v3.5M325.5 720.5v-3.5M379.5 850.5v3.5M379.5 720.5v-3.5M433.5 850.5v3.5M433.5 720.5v-3.5M487.5 850.5v3.5M487.5 720.5v-3.5M541.5 850.5v3.5M541.5 720.5v-3.5M595.5 850.5v3.5M595.5 720.5v-3.5M649.5 850.5v3.5M649.5 720.5v-3.5M703.5 850.5v3.5M703.5 720.5v-3.5" stroke="#000" stroke-width="1" fill="none"/>
<path d="M73.5 850.5v2.2M73.5 720.5v-2.2M91.5 850.5v2.2M91.5 720.5v-2.2M127.5 850.5v2.2M127.5 720.5v-2.2M145.5 850.5v2.2M145.5 720.5v-2.2M181.5 850.5v2.2M181.5 720.5v-2.2M199.5 850.5v2.2M199.5 720.5v-2.2M235.5 850.5v2.2M235.5 720.5v-2.2M253.5 850.5v2.2M253.5 720.5v-2.2M289.5 850.5v2.2M289.5 720.5v-2.2M307.5 850.5v2.2M307.5 720.5v-2.2M343.5 850.5v2.2M343.5 720.5v-2.2M361.5 850.5v2.2M361.5 720.5v-2.2M397.5 850.5v2.2M397.5 720.5v-2.2M415.5 850.5v2.2M415.5 720.5v-2.2M451.5 850.5v2.2M451.5 720.5v-2.2M469.5 850.5v2.2M469.5 720.5v-2.2M505.5 850.5v2.2M505.5 720.5v-2.2M523.5 850.5v2.2M523.5 720.5v-2.2M559.5 850.5v2.2M559.5 720.5v-2.2M577.5 850.5v2.2M577.5 720.5v-2.2M613.5 850.5v2.2M613.5 720.5v-2.2M631.5 850.5v2.2M631.5 720.5v-2.2M667.5 850.5v2.2M667.5 720.5v-2.2M685.5 850.5v2.2M685.5 720.5v-2.2" stroke="#000" stroke-width="0.9" fill="none"/>
<rect x="55.5" y="720.5" width="648" height="130" fill="none" stroke="#000" stroke-width="1"/>
<text x="54.9" y="863.7" font-size="12" fill="#303030" text-anchor="middle">18</text>
<text x="108.9" y="863.7" font-size="12" fill="#303030" text-anchor="middle">21</text>
<text x="162.9" y="863.7" font-size="12" fill="#303030" text-anchor="middle">0</text>
<text x="216.9" y="863.7" font-size="12" fill="#303030" text-anchor="middle">3</text>
<text x="270.9" y="863.7" font-size="12" fill="#303030" text-anchor="middle">6</text>
<text x="324.9" y="863.7" font-size="12" fill="#303030" text-anchor="middle">9</text>
<text x="378.9" y="863.7" font-size="12" fill="#303030" text-anchor="middle">12</text>
<text x="432.9" y="863.7" font-size="12" fill="#303030" text-anchor="middle">15</text>
<text x="486.9" y="863.7" font-size="12" fill="#303030" text-anchor="middle">18</text>
<text x="540.9" y="863.7" font-size="12" fill="#303030" text-anchor="middle">21</text>
<text x="594.9" y="863.7" font-size="12" fill="#303030" text-anchor="middle">0</text>
<text x="648.9" y="863.7" font-size="12" fill="#303030" text-anchor="middle">3</text>
<text x="702.9" y="863.7" font-size="12" fill="#303030" text-anchor="middle">6</text>
<text x="51.1" y="854" font-size="12" fill="#303030" text-anchor="end">700</text>
<text x="51.1" y="828" font-size="12" fill="#303030" text-anchor="end">705</text>
<text x="51.1" y="802" font-size="12" fill="#303030" text-anchor="end">710</text>
<text x="51.1" y="776" font-size="12" fill="#303030" text-anchor="end">715</text>
<text x="51.1" y="750" font-size="12" fill="#303030" text-anchor="end">720</text>
<text x="51.1" y="724" font-size="12" fill="#303030" text-anchor="end">725</text>
<text transform="translate(19.8 785.1) rotate(-90)" font-size="12" fill="#303030" text-anchor="middle">hPa</text>
<text transform="translate(719.5 785.5) rotate(-90)" font-size="12" fill="#303030" text-anchor="middle">Luftdruck (Station)</text>
<rect x="55.5" y="870.5" width="108" height="110" fill="#f9f9f9"/>
<rect x="595.5" y="870.5" width="108" height="110" fill="#f9f9f9"/>
<path d="M73.5 870.5V980.5M91.5 870.5V980.5M127.5 870.5V980.5M145.5 870.5V980.5M181.5 870.5V980.5M199.5 870.5V980.5M235.5 870.5V980.5M253.5 870.5V980.5M289.5 870.5V980.5M307.5 870.5V980.5M343.5 870.5V980.5M361.5 870.5V980.5M397.5 870.5V980.5M415.5 870.5V980.5M451.5 870.5V980.5M469.5 870.5V980.5M505.5 870.5V980.5M523.5 870.5V980.5M559.5 870.5V980.5M577.5 870.5V980.5M613.5 870.5V980.5M631.5 870.5V980.5M667.5 870.5V980.5M685.5 870.5V980.5" stroke="#f0f0f0" stroke-width="1" fill="none"/>
<path d="M109.5 870.5V980.5M163.5 870.5V980.5M217.5 870.5V980.5M271.5 870.5V980.5M325.5 870.5V980.5M379.5 870.5V980.5M433.5 870.5V980.5M487.5 870.5V980.5M541.5 870.5V980.5M595.5 870.5V980.5M649.5 870.5V980.5" stroke="#dddddd" stroke-width="1.0" fill="none"/>
<path d="M55.5 888.5H703.5M55.5 900.5H703.5M55.5 912.5H703.5M55.5 925.5H703.5M55.5 937.5H703.5M55.5 950.5H703.5M55.5 962.5H703.5" stroke="#e1e1e1" stroke-width="1.1" fill="none"/>
<path d="M55.5 876H703.5M55.5 975.2H703.5" stroke="#e8e8e8" stroke-width="2.2" fill="none"/>
<path d="M55.2 936.22h0.01M58.2 936.22h0.01M61.2 936.22h0.01M64.2 936.22h0.01M67.2 936.22h0.01M70.2 936.22h0.01M73.2 936.22h0.01M76.2 933.47h0.01M79.2 933.47h0.01M82.2 933.47h0.01M85.2 933.47h0.01M88.2 933.47h0.01M91.2 933.47h0.01M94.2 933.47h0.01M97.2 930.71h0.01M100.2 925.2h0.01M103.2 922.44h0.01M106.2 925.2h0.01M109.2 922.44h0.01M112.2 922.44h0.01M115.2 919.69h0.01M118.2 925.2h0.01M121.2 925.2h0.01M124.2 916.93h0.01M127.2 911.42h0.01M130.2 908.67h0.01M133.2 911.42h0.01M136.2 908.67h0.01M139.2 908.67h0.01M142.2 905.91h0.01M145.2 905.91h0.01M148.2 905.91h0.01M151.2 905.91h0.01M154.2 905.91h0.01M157.2 905.91h0.01M160.2 908.67h0.01M163.2 908.67h0.01M166.2 908.67h0.01M169.2 914.18h0.01M172.2 911.42h0.01M175.2 908.67h0.01M178.2 911.42h0.01M181.2 908.67h0.01M184.2 905.91h0.01M187.2 905.91h0.01M190.2 903.16h0.01M193.2 905.91h0.01M196.2 914.18h0.01M199.2 911.42h0.01M202.2 911.42h0.01M205.2 914.18h0.01M208.2 911.42h0.01M211.2 916.93h0.01M214.2 916.93h0.01M217.2 911.42h0.01M220.2 914.18h0.01M223.2 911.42h0.01M226.2 908.67h0.01M229.2 914.18h0.01M232.2 908.67h0.01M235.2 894.89h0.01M238.2 897.64h0.01M241.2 903.16h0.01M244.2 905.91h0.01M247.2 903.16h0.01M250.2 903.16h0.01M253.2 903.16h0.01M256.2 905.91h0.01M259.2 903.16h0.01M262.2 908.67h0.01M265.2 911.42h0.01M268.2 916.93h0.01M271.2 911.42h0.01M274.2 911.42h0.01M277.2 908.67h0.01M280.2 905.91h0.01M283.2 905.91h0.01M286.2 905.91h0.01M289.2 903.16h0.01M292.2 903.16h0.01M295.2 903.16h0.01M298.2 903.16h0.01M301.2 903.16h0.01M304.2 903.16h0.01M307.2 903.16h0.01M310.2 905.91h0.01M313.2 905.91h0.01M316.2 905.91h0.01M319.2 905.91h0.01M322.2 905.91h0.01M325.2 908.67h0.01M328.2 911.42h0.01M331.2 911.42h0.01M334.2 919.69h0.01M337.2 919.69h0.01M340.2 922.44h0.01M343.2 925.2h0.01M346.2 933.47h0.01M349.2 925.2h0.01M352.2 925.2h0.01M355.2 927.96h0.01M358.2 922.44h0.01M361.2 925.2h0.01M364.2 925.2h0.01M367.2 919.69h0.01M370.2 922.44h0.01M373.2 916.93h0.01M376.2 914.18h0.01M379.2 916.93h0.01M382.2 927.96h0.01M385.2 919.69h0.01M388.2 966.53h0.01M391.2 875.6h0.01M394.2 972.04h0.01M397.2 966.53h0.01M400.2 963.78h0.01M403.2 963.78h0.01M406.2 972.04h0.01M409.2 966.53h0.01M412.2 952.76h0.01M415.2 950h0.01M418.2 961.02h0.01M421.2 947.24h0.01M424.2 963.78h0.01M427.2 955.51h0.01M430.2 941.73h0.01M433.2 947.24h0.01M436.2 947.24h0.01M439.2 947.24h0.01M442.2 947.24h0.01M445.2 944.49h0.01M448.2 941.73h0.01M451.2 941.73h0.01M454.2 947.24h0.01M457.2 941.73h0.01M460.2 941.73h0.01M463.2 941.73h0.01M466.2 938.98h0.01M469.2 941.73h0.01M472.2 938.98h0.01M475.2 938.98h0.01M478.2 938.98h0.01M481.2 941.73h0.01M484.2 944.49h0.01M487.2 941.73h0.01M490.2 941.73h0.01M493.2 941.73h0.01M496.2 938.98h0.01M499.2 938.98h0.01M502.2 938.98h0.01M505.2 938.98h0.01M508.2 938.98h0.01M511.2 938.98h0.01M514.2 938.98h0.01M517.2 938.98h0.01M520.2 938.98h0.01M523.2 938.98h0.01M526.2 938.98h0.01M529.2 938.98h0.01M532.2 938.98h0.01M535.2 938.98h0.01M538.2 938.98h0.01M541.2 938.98h0.01M544.2 938.98h0.01M547.2 938.98h0.01M550.2 938.98h0.01M553.2 938.98h0.01M556.2 938.98h0.01M559.2 938.98h0.01M562.2 938.98h0.01M565.2 938.98h0.01M568.2 938.98h0.01M571.2 938.98h0.01M574.2 938.98h0.01M577.2 938.98h0.01M580.2 938.98h0.01M583.2 936.22h0.01M586.2 933.47h0.01M589.2 927.96h0.01M592.2 925.2h0.01M595.2 922.44h0.01M598.2 922.44h0.01M601.2 922.44h0.01M604.2 922.44h0.01M607.2 919.69h0.01M610.2 922.44h0.01M613.2 922.44h0.01M616.2 927.96h0.01M619.2 927.96h0.01M622.2 925.2h0.01M625.2 930.71h0.01M628.2 933.47h0.01M631.2 916.93h0.01M634.2 911.42h0.01M637.2 911.42h0.01M640.2 908.67h0.01M643.2 908.67h0.01M646.2 908.67h0.01M649.2 908.67h0.01M652.2 908.67h0.01M655.2 914.18h0.01M658.2 911.42h0.01M661.2 908.67h0.01M664.2 908.67h0.01M667.2 911.42h0.01M670.2 914.18h0.01M673.2 930.71h0.01M676.2 922.44h0.01M679.2 922.44h0.01M682.2 933.47h0.01M685.2 927.96h0.01M688.2 919.69h0.01M691.2 919.69h0.01M694.2 925.2h0.01M697.2 914.18h0.01M700.2 908.67h0.01M703.2 911.42h0.01" stroke="#2c5fe4" stroke-width="2.5" stroke-linecap="round" fill="none"/>
<text x="592.5" y="879" font-size="11" fill="#585858" text-anchor="end">2.1 %</text>
<text x="592.5" y="903.86" font-size="11" fill="#585858" text-anchor="end">19.4 %</text>
<text x="592.5" y="916.29" font-size="11" fill="#585858" text-anchor="end">22.2 %</text>
<text x="592.5" y="928.72" font-size="11" fill="#585858" text-anchor="end">11.1 %</text>
<text x="592.5" y="941.15" font-size="11" fill="#585858" text-anchor="end">32.6 %</text>
<text x="592.5" y="953.58" font-size="11" fill="#585858" text-anchor="end">7.6 %</text>
<text x="592.5" y="966.01" font-size="11" fill="#585858" text-anchor="end">4.9 %</text>
<path d="M55.5 980.5v3.5M55.5 870.5v-3.5M109.5 980.5v3.5M109.5 870.5v-3.5M163.5 980.5v3.5M163.5 870.5v-3.5M217.5 980.5v3.5M217.5 870.5v-3.5M271.5 980.5v3.5M271.5 870.5v-3.5M325.5 980.5v3.5M325.5 870.5v-3.5M379.5 980.5v3.5M379.5 870.5v-3.5M433.5 980.5v3.5M433.5 870.5v-3.5M487.5 980.5v3.5M487.5 870.5v-3.5M541.5 980.5v3.5M541.5 870.5v-3.5M595.5 980.5v3.5M595.5 870.5v-3.5M649.5 980.5v3.5M649.5 870.5v-3.5M703.5 980.5v3.5M703.5 870.5v-3.5" stroke="#000" stroke-width="1" fill="none"/>
<path d="M73.5 980.5v2.2M73.5 870.5v-2.2M91.5 980.5v2.2M91.5 870.5v-2.2M127.5 980.5v2.2M127.5 870.5v-2.2M145.5 980.5v2.2M145.5 870.5v-2.2M181.5 980.5v2.2M181.5 870.5v-2.2M199.5 980.5v2.2M199.5 870.5v-2.2M235.5 980.5v2.2M235.5 870.5v-2.2M253.5 980.5v2.2M253.5 870.5v-2.2M289.5 980.5v2.2M289.5 870.5v-2.2M307.5 980.5v2.2M307.5 870.5v-2.2M343.5 980.5v2.2M343.5 870.5v-2.2M361.5 980.5v2.2M361.5 870.5v-2.2M397.5 980.5v2.2M397.5 870.5v-2.2M415.5 980.5v2.2M415.5 870.5v-2.2M451.5 980.5v2.2M451.5 870.5v-2.2M469.5 980.5v2.2M469.5 870.5v-2.2M505.5 980.5v2.2M505.5 870.5v-2.2M523.5 980.5v2.2M523.5 870.5v-2.2M559.5 980.5v2.2M559.5 870.5v-2.2M577.5 980.5v2.2M577.5 870.5v-2.2M613.5 980.5v2.2M613.5 870.5v-2.2M631.5 980.5v2.2M631.5 870.5v-2.2M667.5 980.5v2.2M667.5 870.5v-2.2M685.5 980.5v2.2M685.5 870.5v-2.2" stroke="#000" stroke-width="0.9" fill="none"/>
<rect x="55.5" y="870.5" width="648" height="110" fill="none" stroke="#000" stroke-width="1"/>
<text x="54.9" y="993.7" font-size="12" fill="#303030" text-anchor="middle">18</text>
<text x="108.9" y="993.7" font-size="12" fill="#303030" text-anchor="middle">21</text>
<text x="162.9" y="993.7" font-size="12" fill="#303030" text-anchor="middle">0</text>
<text x="216.9" y="993.7" font-size="12" fill="#303030" text-anchor="middle">3</text>
<text x="270.9" y="993.7" font-size="12" fill="#303030" text-anchor="middle">6</text>
<text x="324.9" y="993.7" font-size="12" fill="#303030" text-anchor="middle">9</text>
<text x="378.9" y="993.7" font-size="12" fill="#303030" text-anchor="middle">12</text>
<text x="432.9" y="993.7" font-size="12" fill="#303030" text-anchor="middle">15</text>
<text x="486.9" y="993.7" font-size="12" fill="#303030" text-anchor="middle">18</text>
<text x="540.9" y="993.7" font-size="12" fill="#303030" text-anchor="middle">21</text>
<text x="594.9" y="993.7" font-size="12" fill="#303030" text-anchor="middle">0</text>
<text x="648.9" y="993.7" font-size="12" fill="#303030" text-anchor="middle">3</text>
<text x="702.9" y="993.7" font-size="12" fill="#303030" text-anchor="middle">6</text>
<text x="51.1" y="878.8" font-size="12" fill="#303030" text-anchor="end">N</text>
<text x="51.1" y="891.23" font-size="12" fill="#303030" text-anchor="end">NW</text>
<text x="51.1" y="903.66" font-size="12" fill="#303030" text-anchor="end">W</text>
<text x="51.1" y="916.09" font-size="12" fill="#303030" text-anchor="end">SW</text>
<text x="51.1" y="928.52" font-size="12" fill="#303030" text-anchor="end">S</text>
<text x="51.1" y="940.95" font-size="12" fill="#303030" text-anchor="end">SO</text>
<text x="51.1" y="953.38" font-size="12" fill="#303030" text-anchor="end">O</text>
<text x="51.1" y="965.81" font-size="12" fill="#303030" text-anchor="end">NO</text>
<text x="51.1" y="978.24" font-size="12" fill="#303030" text-anchor="end">still</text>
<text transform="translate(18.7 925.2) rotate(-90)" font-size="12" fill="#303030" text-anchor="middle">Richtung</text>
<text transform="translate(719.5 925.5) rotate(-90)" font-size="12" fill="#303030" text-anchor="middle">Windrichtung</text>
<rect x="55.5" y="1138.75" width="648" height="1.75" fill="#f4fcfd"/>
<rect x="55.5" y="1130" width="648" height="8.75" fill="#eefcfc"/>
<rect x="55.5" y="1119.5" width="648" height="10.5" fill="#e9fbf6"/>
<rect x="55.5" y="1105.5" width="648" height="14" fill="#e8fbee"/>
<rect x="55.5" y="1089.75" width="648" height="15.75" fill="#e8fbe6"/>
<rect x="55.5" y="1072.25" width="648" height="17.5" fill="#eafbdc"/>
<rect x="55.5" y="1053" width="648" height="19.25" fill="#f0fbd8"/>
<rect x="55.5" y="1032" width="648" height="21" fill="#f8fbd9"/>
<rect x="55.5" y="1009.25" width="648" height="22.75" fill="#fbf4d8"/>
<rect x="55.5" y="1000.5" width="648" height="8.75" fill="#fcebdc"/>
<rect x="55.5" y="1000.5" width="108" height="140" fill="#000" opacity="0.014"/>
<rect x="595.5" y="1000.5" width="108" height="140" fill="#000" opacity="0.014"/>
<path d="M55.5 1138.5H703.5" stroke="#d9f1f3" stroke-width="1" fill="none"/>
<path d="M55.5 1130.5H703.5" stroke="#d2efee" stroke-width="1" fill="none"/>
<path d="M55.5 1119.5H703.5" stroke="#cfeede" stroke-width="1" fill="none"/>
<path d="M55.5 1105.5H703.5" stroke="#d0eed4" stroke-width="1" fill="none"/>
<path d="M55.5 1089.5H703.5" stroke="#d4eec6" stroke-width="1" fill="none"/>
<path d="M55.5 1072.5H703.5" stroke="#dbeec0" stroke-width="1" fill="none"/>
<path d="M55.5 1053.5H703.5" stroke="#e6eec0" stroke-width="1" fill="none"/>
<path d="M55.5 1032.5H703.5" stroke="#eee7c0" stroke-width="1" fill="none"/>
<path d="M55.5 1009.5H703.5" stroke="#eed8bc" stroke-width="1" fill="none"/>
<text x="135.5" y="1129.35" font-size="13" fill="#bee0d8" text-anchor="middle">2</text>
<text x="135.5" y="1117.1" font-size="13" fill="#bde1c9" text-anchor="middle">3</text>
<text x="135.5" y="1102.22" font-size="13" fill="#bfe1bb" text-anchor="middle">4</text>
<text x="135.5" y="1085.6" font-size="13" fill="#c7deb1" text-anchor="middle">5</text>
<text x="135.5" y="1067.22" font-size="13" fill="#d1dcb0" text-anchor="middle">6</text>
<text x="135.5" y="1047.1" font-size="13" fill="#dbdcb1" text-anchor="middle">7</text>
<text x="135.5" y="1025.22" font-size="13" fill="#ddd4b2" text-anchor="middle">8</text>
<text x="297.5" y="1129.35" font-size="13" fill="#bee0d8" text-anchor="middle">2</text>
<text x="297.5" y="1117.1" font-size="13" fill="#bde1c9" text-anchor="middle">3</text>
<text x="297.5" y="1102.22" font-size="13" fill="#bfe1bb" text-anchor="middle">4</text>
<text x="297.5" y="1085.6" font-size="13" fill="#c7deb1" text-anchor="middle">5</text>
<text x="297.5" y="1067.22" font-size="13" fill="#d1dcb0" text-anchor="middle">6</text>
<text x="297.5" y="1047.1" font-size="13" fill="#dbdcb1" text-anchor="middle">7</text>
<text x="297.5" y="1025.22" font-size="13" fill="#ddd4b2" text-anchor="middle">8</text>
<text x="459.5" y="1129.35" font-size="13" fill="#bee0d8" text-anchor="middle">2</text>
<text x="459.5" y="1117.1" font-size="13" fill="#bde1c9" text-anchor="middle">3</text>
<text x="459.5" y="1102.22" font-size="13" fill="#bfe1bb" text-anchor="middle">4</text>
<text x="459.5" y="1085.6" font-size="13" fill="#c7deb1" text-anchor="middle">5</text>
<text x="459.5" y="1067.22" font-size="13" fill="#d1dcb0" text-anchor="middle">6</text>
<text x="459.5" y="1047.1" font-size="13" fill="#dbdcb1" text-anchor="middle">7</text>
<text x="459.5" y="1025.22" font-size="13" fill="#ddd4b2" text-anchor="middle">8</text>
<text x="621.5" y="1129.35" font-size="13" fill="#bee0d8" text-anchor="middle">2</text>
<text x="621.5" y="1117.1" font-size="13" fill="#bde1c9" text-anchor="middle">3</text>
<text x="621.5" y="1102.22" font-size="13" fill="#bfe1bb" text-anchor="middle">4</text>
<text x="621.5" y="1085.6" font-size="13" fill="#c7deb1" text-anchor="middle">5</text>
<text x="621.5" y="1067.22" font-size="13" fill="#d1dcb0" text-anchor="middle">6</text>
<text x="621.5" y="1047.1" font-size="13" fill="#dbdcb1" text-anchor="middle">7</text>
<text x="621.5" y="1025.22" font-size="13" fill="#ddd4b2" text-anchor="middle">8</text>
<path d="M73.5 1000.5V1140.5M91.5 1000.5V1140.5M127.5 1000.5V1140.5M145.5 1000.5V1140.5M181.5 1000.5V1140.5M199.5 1000.5V1140.5M235.5 1000.5V1140.5M253.5 1000.5V1140.5M289.5 1000.5V1140.5M307.5 1000.5V1140.5M343.5 1000.5V1140.5M361.5 1000.5V1140.5M397.5 1000.5V1140.5M415.5 1000.5V1140.5M451.5 1000.5V1140.5M469.5 1000.5V1140.5M505.5 1000.5V1140.5M523.5 1000.5V1140.5M559.5 1000.5V1140.5M577.5 1000.5V1140.5M613.5 1000.5V1140.5M631.5 1000.5V1140.5M667.5 1000.5V1140.5M685.5 1000.5V1140.5" stroke="rgba(0,0,0,0.05)" stroke-width="1" fill="none"/>
<path d="M109.5 1000.5V1140.5M163.5 1000.5V1140.5M217.5 1000.5V1140.5M271.5 1000.5V1140.5M325.5 1000.5V1140.5M379.5 1000.5V1140.5M433.5 1000.5V1140.5M487.5 1000.5V1140.5M541.5 1000.5V1140.5M595.5 1000.5V1140.5M649.5 1000.5V1140.5" stroke="rgba(0,0,0,0.15)" stroke-width="1" fill="none"/>
<g clip-path="url(#c8)">
<path d="M55 1122.5 L58.75 1120.5 L62.5 1121.25 L67.5 1117 L72.5 1113.25 L77.5 1116.25 L82.5 1114.5 L86.25 1114.25 L90 1117.5 L93.75 1122.5 L97.5 1118.25 L101.25 1118.75 L104.25 1120.5 L108.25 1108 L112.5 1122.5 L117.5 1138.25 L122 1116.25 L126.25 1128.75 L129.5 1124.5 L132.5 1130 L136.25 1118.75 L141.25 1131.25 L144.5 1114.25 L147.5 1118 L151.25 1131.25 L155 1133.25 L157 1133.25 L160 1123.25 L163.25 1133.75 L166.25 1115 L168.75 1113.75 L172 1118.75 L176.25 1111.75 L180 1113.75 L184.25 1130 L187 1125.75 L190.5 1135.5 L196.25 1111.25 L200 1115 L204.5 1128.75 L208.75 1123.75 L213.75 1119.25 L217.5 1131.25 L220 1132.5 L223 1130.5 L226.25 1134.5 L229.25 1128.75 L232.5 1134.5 L235.25 1137.5 L241.5 1137 L247 1130 L250.25 1131.25 L253.5 1128 L256.5 1130 L260.25 1136.25 L265.25 1128.75 L267.75 1130 L271 1115.5 L274 1116.25 L277.75 1125 L280.25 1135 L285.25 1135.5 L289 1132.5 L292.75 1135.5 L296.5 1135.5 L303.5 1138 L307.75 1135 L312.75 1135.5 L316.5 1131.75 L320.25 1130 L324.75 1126.25 L328.25 1117 L331.5 1128.75 L334 1130 L337 1138.75 L342.75 1128.75 L346 1115.75 L349 1130 L354 1130 L358.25 1112.5 L361 1108.75 L364 1118.75 L367.25 1126.25 L370.25 1132.5 L373.5 1125 L376.5 1122.5 L379 1126.25 L382 1118.75 L384.5 1137 L389 1138 L399 1138.5 L403 1137.5 L408 1138 L413 1136.25 L418 1138 L425.5 1137 L430.5 1138.25 L435.5 1136.5 L440.5 1138 L444.25 1137 L448 1127.5 L451 1125 L454.25 1128.75 L457.5 1123.75 L463 1117.5 L466.75 1120 L470.5 1125 L473.75 1120 L478 1113.75 L483 1122.5 L486.75 1120 L490.5 1125 L495.5 1121.25 L499.25 1110 L503 1114.5 L508 1107 L513 1103.75 L516.75 1102.5 L520.5 1101.25 L525.5 1103.75 L528 1102.5 L532.25 1112.5 L536.75 1106.25 L539 1103.75 L542.75 1101.25 L546.5 1106.25 L551.5 1101.25 L554 1103 L557 1104.25 L561.5 1100.5 L565.25 1107 L570.25 1098.75 L576.5 1110 L580.25 1107.5 L585.25 1105.5 L589 1113.75 L592 1110 L595.25 1112 L597.75 1108.75 L601 1077.5 L603.5 1070 L606.5 1090 L609.75 1107.5 L612.75 1126.25 L616 1107.5 L619 1108 L622 1120 L624.5 1114.5 L627.75 1125 L633.5 1133 L637.75 1116.25 L640.25 1115.5 L644 1122.5 L649 1130 L652 1117.5 L655.25 1130 L661.5 1125 L664 1129.5 L667 1118.75 L670.25 1132 L676 1117.5 L679 1126.25 L682 1118.75 L684.75 1108.75 L687.75 1117.5 L690.75 1132 L694 1118.75 L697 1126.25 L700.25 1128.75 L703 1131.25" stroke="#ff7f50" stroke-width="1.05" fill="none" stroke-linejoin="round"/>
<path d="M55 1118.75 L60 1115.75 L65 1112.5 L70.5 1108.75 L75 1107.5 L78.75 1111.25 L82.5 1109.5 L86.25 1108 L90 1111.25 L93.75 1112.5 L97.5 1107.5 L102.5 1101.25 L106.25 1091.25 L108.75 1091.25 L112.5 1098.75 L117.5 1107.5 L123.75 1094.5 L127.5 1100 L132.5 1101.25 L136.25 1103.75 L139.5 1099.5 L142.5 1100.5 L145.5 1097 L150 1103.75 L155 1110.5 L160 1106.25 L163.25 1108 L166.25 1101.25 L170.5 1107.5 L177.5 1098.75 L181.25 1101.25 L185 1105.5 L187.5 1106.25 L190.5 1115 L193.75 1105.5 L197.5 1103.75 L202.5 1107.5 L207.5 1111.25 L211.25 1112.5 L215 1110.75 L217.5 1113.75 L220 1125 L223 1115.5 L226.25 1118 L229.25 1117 L232.5 1121.25 L235.25 1127.5 L240.25 1118.75 L244 1110 L247 1107 L251.5 1110 L255.25 1114.5 L259 1121.25 L262.75 1120 L267.75 1115 L270.25 1101.25 L274 1100.5 L277.75 1103.75 L281.5 1113.75 L285.25 1111.25 L289 1110.5 L292.75 1112.5 L297.75 1118 L303.5 1121.25 L309 1117.5 L315.25 1112.5 L320.25 1108 L324.75 1105 L329 1108.75 L334 1105 L337.75 1103.75 L342.75 1094.5 L346 1100 L351.5 1095.5 L354 1103.75 L357.75 1081.25 L361 1076.25 L364 1082 L367.75 1082.5 L372.75 1087.5 L376.5 1095 L379 1106.25 L381.5 1103.75 L384.5 1120 L387.75 1127.5 L391 1128.75 L394 1133.75 L400.25 1130 L403 1130 L408 1132 L413 1131.25 L418 1130 L423 1127.5 L426.75 1131.25 L433 1130 L438 1128 L441.75 1128.75 L445 1125 L448 1118.75 L451 1116.25 L454.25 1115 L457.5 1116.25 L463 1111.25 L466.75 1112.5 L470.5 1108.75 L475.5 1105 L479.25 1108.75 L484.25 1112 L491.75 1112 L498 1105 L503 1103.75 L508 1098.75 L511.75 1099.5 L515.5 1097.5 L523 1096.25 L529.25 1092.5 L535 1090.75 L539 1088.75 L542.75 1087.5 L547.75 1091.25 L551.5 1089.5 L555.25 1092.5 L559 1088.75 L562.75 1091.25 L566.5 1095 L570.25 1092.5 L574 1096.25 L579 1099.5 L582.75 1100 L586.5 1096.25 L589 1097.5 L591.5 1086.25 L595.25 1077.5 L599 1062.5 L602.75 1055 L605.25 1053.75 L607.75 1057.5 L612.75 1086.25 L616.5 1076.25 L620.25 1073.75 L622.75 1077 L625.25 1070 L629 1073 L632.75 1082.5 L637.75 1076.25 L640.25 1075 L644 1079.5 L649 1086.25 L652 1081.25 L656.5 1086.25 L661.5 1085.5 L667 1092.5 L671.5 1088.75 L676 1076.25 L679 1083.75 L682 1071.25 L684.75 1078.75 L687.75 1063.75 L692.75 1066.25 L697 1077 L700.25 1071.25 L703 1075.5" stroke="#e0446e" stroke-width="1.05" fill="none" stroke-linejoin="round"/>
<path d="M55 1114.25 L60 1110 L65 1107 L70.5 1104.25 L75 1103.75 L78.75 1107 L82.5 1106.25 L86.25 1104.25 L90 1105.5 L93.75 1106.25 L97.5 1100 L103.25 1092.5 L106.25 1074.25 L111.25 1082.5 L115.75 1090 L121.25 1072 L126.25 1079.25 L129.5 1076.75 L133 1085.5 L138.75 1088 L141.75 1087 L145 1082.5 L151.25 1088.75 L157 1093.75 L160 1088.25 L163.25 1097.5 L167.5 1098.75 L171.25 1100.5 L176.25 1093.25 L183.75 1090.75 L190 1097 L193.75 1096.25 L198.75 1100 L205 1101.25 L211.25 1103.75 L215 1105.5 L217.5 1103.75 L220 1113.25 L223 1107.5 L226.25 1108 L229.25 1103.75 L232.5 1108.75 L235.25 1112 L239 1101.25 L244 1093.25 L247 1092.5 L250.25 1097 L254 1100 L259 1106.25 L264 1108 L267.75 1106.25 L270.25 1092.5 L274 1085.5 L277 1085.5 L280.25 1092.5 L283.5 1095 L289 1088 L292.75 1090 L296.5 1093.75 L300.25 1099.5 L304 1102 L309 1102.5 L312.75 1100 L316.5 1095.75 L320.25 1097 L324 1095 L327.75 1100 L330.25 1095 L333.5 1082.5 L337 1081.25 L342.75 1071.25 L346 1084.25 L349 1068.75 L352 1063.75 L354.75 1082.5 L358.25 1038.75 L361 1035 L364 1056.25 L367.25 1051.25 L370.25 1052.5 L372.75 1061.25 L376.5 1068.75 L379 1083.75 L382 1085 L384.5 1102.5 L387.75 1120 L391 1115.75 L394.5 1121.25 L400.25 1119.25 L403 1121.25 L406.75 1123 L409.25 1125 L412.5 1120.5 L415.5 1123.75 L418 1117.5 L421 1123 L424.25 1114.5 L427.5 1118.75 L430.5 1122.5 L433.5 1121.25 L436 1117.5 L439.25 1125 L442.5 1120 L445 1113.75 L448 1104.5 L451 1109.5 L454.25 1106.25 L457.5 1107.5 L463 1102.5 L466.75 1103.75 L470.5 1102 L473.5 1103.75 L475.5 1097 L479.25 1100.5 L483 1103 L491.75 1103 L498 1096.25 L503 1095 L508 1090.75 L511.75 1093.25 L515.5 1091.75 L523 1090 L526 1080 L529.25 1081.25 L532.25 1078.75 L535 1082.5 L539 1076.25 L544 1075 L549 1078.75 L552.75 1083.75 L556.5 1078.75 L559 1078.75 L562 1075.5 L565.25 1082.5 L569 1086.25 L574 1085 L577.75 1089.5 L580.25 1087.5 L583.25 1095 L586.5 1082.5 L589.5 1077.5 L592.75 1055 L596 1046.25 L600.25 1041.25 L604 1027.5 L606.5 1028.75 L610.25 1041.25 L612.75 1037.5 L616 1041.25 L621.5 1037.5 L625.25 1022.5 L627.75 1020 L631.5 1041.25 L635.25 1053.75 L637.75 1050 L640.25 1043 L642.75 1043.75 L646 1060.5 L649 1053 L652 1067.5 L655.25 1061.25 L659 1063.75 L664 1063.25 L667 1073.75 L670.25 1060 L673.25 1045 L679 1041.25 L682 1026.25 L684.75 1042.5 L687.75 1034.25 L690.75 1036.25 L694 1015 L697 1040 L700.25 1018.75 L703 1003.75" stroke="#c71585" stroke-width="1.1" fill="none" stroke-linejoin="round"/>
</g>
<text x="59" y="1013.8" font-size="11" fill="#c71585" text-anchor="start">Fx</text>
<text x="59" y="1026.8" font-size="11" fill="#5e5e5e" text-anchor="start">Fmx</text>
<text x="59" y="1039.8" font-size="11" fill="#e0446e" text-anchor="start">Fm</text>
<text x="59" y="1052.8" font-size="11" fill="#ff7f50" text-anchor="start">Fn</text>
<text x="592.5" y="1013.8" font-size="11" fill="#585858" text-anchor="end">60.1 km/h</text>
<text x="592.5" y="1026.8" font-size="11" fill="#585858" text-anchor="end">37.4 km/h</text>
<text x="592.5" y="1039.8" font-size="11" fill="#585858" text-anchor="end">17.6 km/h</text>
<text x="592.5" y="1052.8" font-size="11" fill="#585858" text-anchor="end">0.4 km/h</text>
<path d="M55.5 1140.5v3.5M55.5 1000.5v-3.5M109.5 1140.5v3.5M109.5 1000.5v-3.5M163.5 1140.5v3.5M163.5 1000.5v-3.5M217.5 1140.5v3.5M217.5 1000.5v-3.5M271.5 1140.5v3.5M271.5 1000.5v-3.5M325.5 1140.5v3.5M325.5 1000.5v-3.5M379.5 1140.5v3.5M379.5 1000.5v-3.5M433.5 1140.5v3.5M433.5 1000.5v-3.5M487.5 1140.5v3.5M487.5 1000.5v-3.5M541.5 1140.5v3.5M541.5 1000.5v-3.5M595.5 1140.5v3.5M595.5 1000.5v-3.5M649.5 1140.5v3.5M649.5 1000.5v-3.5M703.5 1140.5v3.5M703.5 1000.5v-3.5" stroke="#000" stroke-width="1" fill="none"/>
<path d="M73.5 1140.5v2.2M73.5 1000.5v-2.2M91.5 1140.5v2.2M91.5 1000.5v-2.2M127.5 1140.5v2.2M127.5 1000.5v-2.2M145.5 1140.5v2.2M145.5 1000.5v-2.2M181.5 1140.5v2.2M181.5 1000.5v-2.2M199.5 1140.5v2.2M199.5 1000.5v-2.2M235.5 1140.5v2.2M235.5 1000.5v-2.2M253.5 1140.5v2.2M253.5 1000.5v-2.2M289.5 1140.5v2.2M289.5 1000.5v-2.2M307.5 1140.5v2.2M307.5 1000.5v-2.2M343.5 1140.5v2.2M343.5 1000.5v-2.2M361.5 1140.5v2.2M361.5 1000.5v-2.2M397.5 1140.5v2.2M397.5 1000.5v-2.2M415.5 1140.5v2.2M415.5 1000.5v-2.2M451.5 1140.5v2.2M451.5 1000.5v-2.2M469.5 1140.5v2.2M469.5 1000.5v-2.2M505.5 1140.5v2.2M505.5 1000.5v-2.2M523.5 1140.5v2.2M523.5 1000.5v-2.2M559.5 1140.5v2.2M559.5 1000.5v-2.2M577.5 1140.5v2.2M577.5 1000.5v-2.2M613.5 1140.5v2.2M613.5 1000.5v-2.2M631.5 1140.5v2.2M631.5 1000.5v-2.2M667.5 1140.5v2.2M667.5 1000.5v-2.2M685.5 1140.5v2.2M685.5 1000.5v-2.2" stroke="#000" stroke-width="0.9" fill="none"/>
<rect x="55.5" y="1000.5" width="648" height="140" fill="none" stroke="#000" stroke-width="1"/>
<text x="54.9" y="1153.7" font-size="12" fill="#303030" text-anchor="middle">18</text>
<text x="108.9" y="1153.7" font-size="12" fill="#303030" text-anchor="middle">21</text>
<text x="162.9" y="1153.7" font-size="12" fill="#303030" text-anchor="middle">0</text>
<text x="216.9" y="1153.7" font-size="12" fill="#303030" text-anchor="middle">3</text>
<text x="270.9" y="1153.7" font-size="12" fill="#303030" text-anchor="middle">6</text>
<text x="324.9" y="1153.7" font-size="12" fill="#303030" text-anchor="middle">9</text>
<text x="378.9" y="1153.7" font-size="12" fill="#303030" text-anchor="middle">12</text>
<text x="432.9" y="1153.7" font-size="12" fill="#303030" text-anchor="middle">15</text>
<text x="486.9" y="1153.7" font-size="12" fill="#303030" text-anchor="middle">18</text>
<text x="540.9" y="1153.7" font-size="12" fill="#303030" text-anchor="middle">21</text>
<text x="594.9" y="1153.7" font-size="12" fill="#303030" text-anchor="middle">0</text>
<text x="648.9" y="1153.7" font-size="12" fill="#303030" text-anchor="middle">3</text>
<text x="702.9" y="1153.7" font-size="12" fill="#303030" text-anchor="middle">6</text>
<text x="51.1" y="1144" font-size="12" fill="#303030" text-anchor="end">0</text>
<text x="51.1" y="1126.5" font-size="12" fill="#303030" text-anchor="end">10</text>
<text x="51.1" y="1109" font-size="12" fill="#303030" text-anchor="end">20</text>
<text x="51.1" y="1091.5" font-size="12" fill="#303030" text-anchor="end">30</text>
<text x="51.1" y="1074" font-size="12" fill="#303030" text-anchor="end">40</text>
<text x="51.1" y="1056.5" font-size="12" fill="#303030" text-anchor="end">50</text>
<text x="51.1" y="1039" font-size="12" fill="#303030" text-anchor="end">60</text>
<text x="51.1" y="1021.5" font-size="12" fill="#303030" text-anchor="end">70</text>
<text x="51.1" y="1004" font-size="12" fill="#303030" text-anchor="end">80</text>
<text transform="translate(26.5 1069.9) rotate(-90)" font-size="12" fill="#303030" text-anchor="middle">km/h</text>
<text transform="translate(719.5 1070.5) rotate(-90)" font-size="12" fill="#303030" text-anchor="middle">Windgeschwindigkeit</text>
<defs>
<clipPath id="c1"><rect x="55.5" y="75.5" width="648" height="200"/></clipPath>
<clipPath id="c7"><rect x="55.5" y="870.5" width="648" height="110"/></clipPath>
<clipPath id="c8"><rect x="55.5" y="1000.5" width="648" height="140"/></clipPath>
</defs>
</svg>
</body></html>
